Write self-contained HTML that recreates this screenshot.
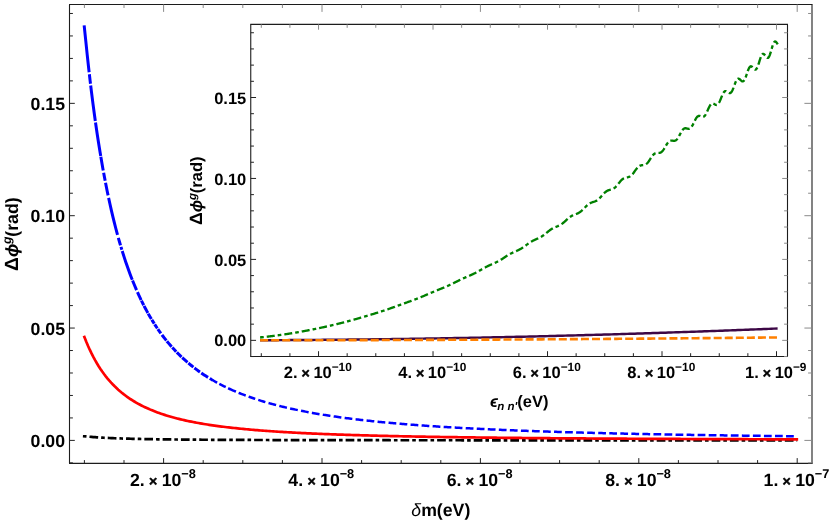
<!DOCTYPE html>
<html>
<head>
<meta charset="utf-8">
<title>Plot</title>
<style>
html, body { margin: 0; padding: 0; background: #ffffff; }
body { width: 830px; height: 521px; overflow: hidden; font-family: "Liberation Sans", sans-serif; }
svg { display: block; will-change: transform; }
svg text { font-family: "Liberation Sans", sans-serif; fill: #000000; text-rendering: geometricPrecision; }
</style>
</head>
<body>
<svg width="830" height="521" viewBox="0 0 830 521">
<rect x="0" y="0" width="830" height="521" fill="#ffffff"/>
<path d="M82.90,436.27 L86.18,436.45 L87.96,436.61 L89.75,436.77 L91.53,436.92 L93.31,437.06 L95.09,437.19 L96.87,437.31 L98.66,437.43 L100.44,437.54 L102.22,437.64 L104.00,437.74 L105.78,437.84 L107.57,437.93 L109.35,438.01 L111.13,438.09 L112.91,438.16 L114.69,438.24 L116.48,438.31 L118.26,438.37 L120.04,438.43 L121.82,438.49 L123.60,438.55 L125.39,438.60 L127.17,438.66 L128.95,438.71 L130.73,438.75 L132.51,438.80 L134.30,438.84 L136.08,438.89 L137.86,438.93 L139.64,438.97 L141.42,439.00 L143.21,439.04 L144.99,439.07 L146.77,439.11 L148.55,439.14 L150.33,439.17 L152.12,439.20 L153.90,439.23 L155.68,439.25 L157.46,439.28 L159.24,439.31 L161.03,439.33 L162.81,439.36 L164.59,439.38 L166.37,439.40 L168.15,439.42 L169.94,439.44 L171.72,439.46 L173.50,439.48 L175.28,439.50 L177.06,439.52 L178.85,439.54 L180.63,439.56 L182.41,439.57 L184.19,439.59 L185.97,439.61 L187.76,439.62 L189.54,439.64 L191.32,439.65 L193.10,439.67 L194.88,439.68 L196.67,439.69 L198.45,439.71 L200.23,439.72 L202.01,439.73 L203.79,439.74 L205.58,439.75 L207.36,439.77 L209.14,439.78 L210.92,439.79 L212.70,439.80 L214.49,439.81 L216.27,439.82 L218.05,439.83 L219.83,439.84 L221.61,439.85 L223.40,439.86 L225.18,439.86 L226.96,439.87 L228.74,439.88 L230.52,439.89 L232.31,439.90 L234.09,439.90 L235.87,439.91 L237.65,439.92 L239.43,439.93 L241.22,439.93 L243.00,439.94 L244.78,439.95 L246.56,439.95 L248.34,439.96 L250.13,439.97 L251.91,439.97 L253.69,439.98 L255.47,439.99 L257.25,439.99 L259.04,440.00 L260.82,440.00 L262.60,440.01 L264.38,440.01 L266.16,440.02 L267.95,440.02 L269.73,440.03 L271.51,440.03 L273.29,440.04 L275.07,440.04 L276.86,440.05 L278.64,440.05 L280.42,440.06 L282.20,440.06 L283.98,440.07 L285.77,440.07 L287.55,440.07 L289.33,440.08 L291.11,440.08 L292.89,440.09 L294.68,440.09 L296.46,440.09 L298.24,440.10 L300.02,440.10 L301.80,440.11 L303.59,440.11 L305.37,440.11 L307.15,440.12 L308.93,440.12 L310.71,440.12 L312.50,440.13 L314.28,440.13 L316.06,440.13 L317.84,440.13 L319.62,440.14 L321.41,440.14 L323.19,440.14 L324.97,440.15 L326.75,440.15 L328.53,440.15 L330.32,440.15 L332.10,440.16 L333.88,440.16 L335.66,440.16 L337.44,440.17 L339.23,440.17 L341.01,440.17 L342.79,440.17 L344.57,440.17 L346.35,440.18 L348.14,440.18 L349.92,440.18 L351.70,440.18 L353.48,440.19 L355.26,440.19 L357.05,440.19 L358.83,440.19 L360.61,440.19 L362.39,440.20 L364.17,440.20 L365.96,440.20 L367.74,440.20 L369.52,440.20 L371.30,440.21 L373.08,440.21 L374.87,440.21 L376.65,440.21 L378.43,440.21 L380.21,440.22 L381.99,440.22 L383.78,440.22 L385.56,440.22 L387.34,440.22 L389.12,440.22 L390.90,440.23 L392.69,440.23 L394.47,440.23 L396.25,440.23 L398.03,440.23 L399.81,440.23 L401.60,440.23 L403.38,440.24 L405.16,440.24 L406.94,440.24 L408.72,440.24 L410.51,440.24 L412.29,440.24 L414.07,440.24 L415.85,440.25 L417.63,440.25 L419.42,440.25 L421.20,440.25 L422.98,440.25 L424.76,440.25 L426.54,440.25 L428.33,440.26 L430.11,440.26 L431.89,440.26 L433.67,440.26 L435.45,440.26 L437.24,440.26 L439.02,440.26 L440.80,440.26 L442.58,440.26 L444.36,440.27 L446.15,440.27 L447.93,440.27 L449.71,440.27 L451.49,440.27 L453.27,440.27 L455.06,440.27 L456.84,440.27 L458.62,440.27 L460.40,440.27 L462.18,440.28 L463.97,440.28 L465.75,440.28 L467.53,440.28 L469.31,440.28 L471.09,440.28 L472.88,440.28 L474.66,440.28 L476.44,440.28 L478.22,440.28 L480.00,440.28 L481.79,440.29 L483.57,440.29 L485.35,440.29 L487.13,440.29 L488.91,440.29 L490.70,440.29 L492.48,440.29 L494.26,440.29 L496.04,440.29 L497.82,440.29 L499.61,440.29 L501.39,440.29 L503.17,440.30 L504.95,440.30 L506.73,440.30 L508.52,440.30 L510.30,440.30 L512.08,440.30 L513.86,440.30 L515.64,440.30 L517.43,440.30 L519.21,440.30 L520.99,440.30 L522.77,440.30 L524.55,440.30 L526.34,440.30 L528.12,440.31 L529.90,440.31 L531.68,440.31 L533.46,440.31 L535.25,440.31 L537.03,440.31 L538.81,440.31 L540.59,440.31 L542.37,440.31 L544.16,440.31 L545.94,440.31 L547.72,440.31 L549.50,440.31 L551.28,440.31 L553.07,440.31 L554.85,440.31 L556.63,440.31 L558.41,440.32 L560.19,440.32 L561.98,440.32 L563.76,440.32 L565.54,440.32 L567.32,440.32 L569.10,440.32 L570.89,440.32 L572.67,440.32 L574.45,440.32 L576.23,440.32 L578.01,440.32 L579.80,440.32 L581.58,440.32 L583.36,440.32 L585.14,440.32 L586.92,440.32 L588.71,440.32 L590.49,440.32 L592.27,440.32 L594.05,440.33 L595.83,440.33 L597.62,440.33 L599.40,440.33 L601.18,440.33 L602.96,440.33 L604.74,440.33 L606.53,440.33 L608.31,440.33 L610.09,440.33 L611.87,440.33 L613.65,440.33 L615.44,440.33 L617.22,440.33 L619.00,440.33 L620.78,440.33 L622.56,440.33 L624.35,440.33 L626.13,440.33 L627.91,440.33 L629.69,440.33 L631.47,440.33 L633.26,440.33 L635.04,440.33 L636.82,440.33 L638.60,440.34 L640.38,440.34 L642.17,440.34 L643.95,440.34 L645.73,440.34 L647.51,440.34 L649.29,440.34 L651.08,440.34 L652.86,440.34 L654.64,440.34 L656.42,440.34 L658.20,440.34 L659.99,440.34 L661.77,440.34 L663.55,440.34 L665.33,440.34 L667.11,440.34 L668.90,440.34 L670.68,440.34 L672.46,440.34 L674.24,440.34 L676.02,440.34 L677.81,440.34 L679.59,440.34 L681.37,440.34 L683.15,440.34 L684.93,440.34 L686.72,440.34 L688.50,440.34 L690.28,440.34 L692.06,440.35 L693.84,440.35 L695.63,440.35 L697.41,440.35 L699.19,440.35 L700.97,440.35 L702.75,440.35 L704.54,440.35 L706.32,440.35 L708.10,440.35 L709.88,440.35 L711.66,440.35 L713.45,440.35 L715.23,440.35 L717.01,440.35 L718.79,440.35 L720.57,440.35 L722.36,440.35 L724.14,440.35 L725.92,440.35 L727.70,440.35 L729.48,440.35 L731.27,440.35 L733.05,440.35 L734.83,440.35 L736.61,440.35 L738.39,440.35 L740.18,440.35 L741.96,440.35 L743.74,440.35 L745.52,440.35 L747.30,440.35 L749.09,440.35 L750.87,440.35 L752.65,440.35 L754.43,440.35 L756.21,440.35 L758.00,440.35 L759.78,440.35 L761.56,440.35 L763.34,440.35 L765.12,440.36 L766.91,440.36 L768.69,440.36 L770.47,440.36 L772.25,440.36 L774.03,440.36 L775.82,440.36 L777.60,440.36 L779.38,440.36 L781.16,440.36 L782.94,440.36 L784.73,440.36 L786.51,440.36 L788.29,440.36 L790.07,440.36 L791.85,440.36 L793.64,440.36 L795.42,440.36 L797.20,440.36" fill="none" stroke="#000000" stroke-width="2.7" stroke-linejoin="round" stroke-linecap="butt" stroke-dasharray="3.6 3.0 8.7 3.0" stroke-dashoffset="0"/>
<defs><clipPath id="cA"><rect x="0" y="0" width="212" height="521"/></clipPath><clipPath id="cB"><rect x="212" y="0" width="618" height="521"/></clipPath></defs>
<g clip-path="url(#cA)">
<path d="M84.15,25.45 L85.83,41.44 L87.25,55.19 L88.68,68.23 L90.10,80.62 L91.53,92.41 L92.95,103.62 L94.38,114.31 L95.80,124.49 L97.23,134.20 L98.66,143.47 L100.08,152.32 L101.51,160.79 L102.93,168.89 L104.36,176.64 L105.78,184.06 L107.21,191.18 L108.64,198.00 L110.06,204.55 L111.49,210.83 L112.91,216.87 L114.34,222.67 L115.76,228.25 L117.19,233.61 L118.61,238.78 L120.04,243.75 L121.47,248.55 L122.89,253.17 L124.32,257.62 L125.74,261.92 L127.17,266.07 L128.59,270.07 L130.02,273.94 L131.44,277.68 L132.87,281.29 L134.30,284.79 L135.72,288.17 L137.15,291.44 L138.57,294.61 L140.00,297.67 L141.42,300.65 L142.85,303.53 L144.28,306.32 L145.70,309.02 L147.13,311.65 L148.55,314.20 L149.98,316.67 L151.40,319.07 L152.83,321.40 L154.25,323.67 L155.68,325.87 L157.11,328.01 L158.53,330.09 L159.96,332.11 L161.38,334.08 L162.81,336.00 L164.23,337.86 L165.66,339.67 L167.08,341.44 L168.51,343.16 L169.94,344.84 L171.36,346.47 L172.79,348.06 L174.21,349.61 L175.64,351.12 L177.06,352.60 L178.49,354.04 L179.92,355.44 L181.34,356.81 L182.77,358.15 L184.19,359.45 L185.62,360.73 L187.04,361.97 L188.47,363.19 L189.89,364.37 L191.32,365.53 L192.75,366.67 L194.17,367.78 L195.60,368.86 L197.02,369.92 L198.45,370.95 L199.87,371.97 L201.30,372.96 L202.72,373.93 L204.15,374.88 L205.58,375.81 L207.00,376.72 L208.43,377.61 L209.85,378.48 L211.28,379.33 L212.70,380.17 L214.13,380.99 L215.56,381.79 L216.98,382.58 L218.41,383.35 L219.83,384.10 L221.26,384.84 L222.68,385.57 L224.11,386.28 L225.53,386.98 L226.96,387.66 L228.39,388.34 L229.81,388.99 L231.24,389.64 L232.66,390.28 L234.09,390.90 L235.51,391.51 L236.94,392.11 L238.36,392.70 L239.79,393.28 L241.22,393.84 L242.64,394.40 L244.07,394.95 L245.49,395.49 L246.92,396.01 L248.34,396.53 L249.77,397.04 L251.20,397.54 L252.62,398.04 L254.05,398.52 L255.47,399.00 L256.90,399.46 L258.32,399.92 L259.75,400.38 L261.17,400.82 L262.60,401.26 L264.03,401.69 L265.45,402.11 L266.88,402.53 L268.30,402.94 L269.73,403.34 L271.15,403.73 L272.58,404.12 L274.00,404.51 L275.43,404.89 L276.86,405.26 L278.28,405.62 L279.71,405.98 L281.13,406.34 L282.56,406.69 L283.98,407.03 L285.41,407.37 L286.84,407.70 L288.26,408.03 L289.69,408.36 L291.11,408.67 L292.54,408.99 L293.96,409.30 L295.39,409.60 L296.81,409.90 L298.24,410.20 L299.67,410.49 L301.09,410.78 L302.52,411.06 L303.94,411.34 L305.37,411.62 L306.79,411.89 L308.22,412.16 L309.64,412.42 L311.07,412.68 L312.50,412.94 L313.92,413.19 L315.35,413.44 L316.77,413.69 L318.20,413.93 L319.62,414.17 L321.05,414.40 L322.48,414.64 L323.90,414.87 L325.33,415.09 L326.75,415.32 L328.18,415.54 L329.60,415.76 L331.03,415.97 L332.45,416.18 L333.88,416.39 L335.31,416.60 L336.73,416.80 L338.16,417.01 L339.58,417.21 L341.01,417.40 L342.43,417.60 L343.86,417.79 L345.28,417.98 L346.71,418.16 L348.14,418.35 L349.56,418.53 L350.99,418.71 L352.41,418.89 L353.84,419.06 L355.26,419.24 L356.69,419.41 L358.12,419.58 L359.54,419.74 L360.97,419.91 L362.39,420.07 L363.82,420.23 L365.24,420.39 L366.67,420.55 L368.09,420.71 L369.52,420.86 L370.95,421.01 L372.37,421.16 L373.80,421.31 L375.22,421.46 L376.65,421.60 L378.07,421.75 L379.50,421.89 L380.92,422.03 L382.35,422.17 L383.78,422.30 L385.20,422.44 L386.63,422.57 L388.05,422.71 L389.48,422.84 L390.90,422.97 L392.33,423.10 L393.76,423.22 L395.18,423.35 L396.61,423.47 L398.03,423.59 L399.46,423.72 L400.88,423.84 L402.31,423.95 L403.73,424.07 L405.16,424.19 L406.59,424.30 L408.01,424.42 L409.44,424.53 L410.86,424.64 L412.29,424.75 L413.71,424.86 L415.14,424.97 L416.56,425.07 L417.99,425.18 L419.42,425.28 L420.84,425.39 L422.27,425.49 L423.69,425.59 L425.12,425.69 L426.54,425.79 L427.97,425.89 L429.40,425.99 L430.82,426.08 L432.25,426.18 L433.67,426.27 L435.10,426.37 L436.52,426.46 L437.95,426.55 L439.37,426.64 L440.80,426.73 L442.23,426.82 L443.65,426.91 L445.08,427.00 L446.50,427.08 L447.93,427.17 L449.35,427.25 L450.78,427.34 L452.20,427.42 L453.63,427.50 L455.06,427.58 L456.48,427.67 L457.91,427.75 L459.33,427.83 L460.76,427.90 L462.18,427.98 L463.61,428.06 L465.04,428.14 L466.46,428.21 L467.89,428.29 L469.31,428.36 L470.74,428.43 L472.16,428.51 L473.59,428.58 L475.01,428.65 L476.44,428.72 L477.87,428.79 L479.29,428.86 L480.72,428.93 L482.14,429.00 L483.57,429.07 L484.99,429.13 L486.42,429.20 L487.84,429.27 L489.27,429.33 L490.70,429.40 L492.12,429.46 L493.55,429.53 L494.97,429.59 L496.40,429.65 L497.82,429.71 L499.25,429.77 L500.68,429.84 L502.10,429.90 L503.53,429.96 L504.95,430.02 L506.38,430.08 L507.80,430.13 L509.23,430.19 L510.65,430.25 L512.08,430.31 L513.51,430.36 L514.93,430.42 L516.36,430.47 L517.78,430.53 L519.21,430.58 L520.63,430.64 L522.06,430.69 L523.48,430.75 L524.91,430.80 L526.34,430.85 L527.76,430.90 L529.19,430.95 L530.61,431.01 L532.04,431.06 L533.46,431.11 L534.89,431.16 L536.32,431.21 L537.74,431.26 L539.17,431.30 L540.59,431.35 L542.02,431.40 L543.44,431.45 L544.87,431.50 L546.29,431.54 L547.72,431.59 L549.15,431.63 L550.57,431.68 L552.00,431.73 L553.42,431.77 L554.85,431.82 L556.27,431.86 L557.70,431.90 L559.12,431.95 L560.55,431.99 L561.98,432.03 L563.40,432.08 L564.83,432.12 L566.25,432.16 L567.68,432.20 L569.10,432.24 L570.53,432.29 L571.96,432.33 L573.38,432.37 L574.81,432.41 L576.23,432.45 L577.66,432.49 L579.08,432.53 L580.51,432.56 L581.93,432.60 L583.36,432.64 L584.79,432.68 L586.21,432.72 L587.64,432.76 L589.06,432.79 L590.49,432.83 L591.91,432.87 L593.34,432.90 L594.76,432.94 L596.19,432.97 L597.62,433.01 L599.04,433.05 L600.47,433.08 L601.89,433.12 L603.32,433.15 L604.74,433.19 L606.17,433.22 L607.60,433.25 L609.02,433.29 L610.45,433.32 L611.87,433.35 L613.30,433.39 L614.72,433.42 L616.15,433.45 L617.57,433.48 L619.00,433.52 L620.43,433.55 L621.85,433.58 L623.28,433.61 L624.70,433.64 L626.13,433.67 L627.55,433.70 L628.98,433.73 L630.40,433.77 L631.83,433.80 L633.26,433.83 L634.68,433.86 L636.11,433.88 L637.53,433.91 L638.96,433.94 L640.38,433.97 L641.81,434.00 L643.24,434.03 L644.66,434.06 L646.09,434.09 L647.51,434.11 L648.94,434.14 L650.36,434.17 L651.79,434.20 L653.21,434.22 L654.64,434.25 L656.07,434.28 L657.49,434.30 L658.92,434.33 L660.34,434.36 L661.77,434.38 L663.19,434.41 L664.62,434.44 L666.04,434.46 L667.47,434.49 L668.90,434.51 L670.32,434.54 L671.75,434.56 L673.17,434.59 L674.60,434.61 L676.02,434.64 L677.45,434.66 L678.88,434.69 L680.30,434.71 L681.73,434.73 L683.15,434.76 L684.58,434.78 L686.00,434.80 L687.43,434.83 L688.85,434.85 L690.28,434.87 L691.71,434.90 L693.13,434.92 L694.56,434.94 L695.98,434.97 L697.41,434.99 L698.83,435.01 L700.26,435.03 L701.68,435.05 L703.11,435.08 L704.54,435.10 L705.96,435.12 L707.39,435.14 L708.81,435.16 L710.24,435.18 L711.66,435.20 L713.09,435.22 L714.52,435.25 L715.94,435.27 L717.37,435.29 L718.79,435.31 L720.22,435.33 L721.64,435.35 L723.07,435.37 L724.49,435.39 L725.92,435.41 L727.35,435.43 L728.77,435.45 L730.20,435.47 L731.62,435.49 L733.05,435.50 L734.47,435.52 L735.90,435.54 L737.32,435.56 L738.75,435.58 L740.18,435.60 L741.60,435.62 L743.03,435.64 L744.45,435.65 L745.88,435.67 L747.30,435.69 L748.73,435.71 L750.16,435.73 L751.58,435.74 L753.01,435.76 L754.43,435.78 L755.86,435.80 L757.28,435.81 L758.71,435.83 L760.13,435.85 L761.56,435.87 L762.99,435.88 L764.41,435.90 L765.84,435.92 L767.26,435.93 L768.69,435.95 L770.11,435.97 L771.54,435.98 L772.96,436.00 L774.39,436.02 L775.82,436.03 L777.24,436.05 L778.67,436.07 L780.09,436.08 L781.52,436.10 L782.94,436.11 L784.37,436.13 L785.80,436.14 L787.22,436.16 L788.65,436.17 L790.07,436.19 L791.50,436.21 L792.92,436.22 L793.95,436.23" fill="none" stroke="#0000ff" stroke-width="3.0" stroke-linejoin="round" stroke-linecap="butt" stroke-dasharray="47.11 2.01 9.57 1.71 35.80 1.52 34.01 0.71 13.91 2.34 8.14 2.04 12.76 2.56 38.09 3.11 7.81 1.57 3.03 1.36 30.45 0.75 10.42 2.19 8.72 0.70 5.08 0.80 7.97 0.80 6.29 0.80 4.64 0.80 4.81 0.90 5.21 1.80 7.23 0.90 7.34 0.90 5.73 1.00 6.51 1.00 7.07 1.10 6.47 1.30 6.92 1.60 8.06 2.00 8.59 2.40 7.16 2.70 8.55 2.90 7.60 3.10 6.99 3.20 7.41 3.30 7.88 3.30 7.80 3.30 7.84 3.30 7.75 3.30 7.75 3.30 7.75 3.30 7.75 3.30 7.75 3.30 7.75 3.30 7.75 3.30 7.75 3.30 7.75 3.30 7.75 3.30 7.75 3.30 7.75 3.30 7.75 3.30 7.75 3.30 7.75 3.30 7.75 3.30 7.75 3.30 7.75 3.30 7.75 3.30 7.75 3.30 7.75 3.30 7.75 3.30 7.75 3.30 7.75 3.30 7.75 3.30 7.75 3.30 7.75 3.30 7.75 3.30 7.75 3.30 7.75 3.30 7.75 3.30 7.75 3.30 7.75 3.30 7.75 3.30 7.75 3.30 7.75 3.30 7.75 3.30 7.75 3.30 7.75 3.30 7.75 3.30 7.75 3.30 7.75 3.30 7.75 3.30 7.75 3.30 7.75 3.30 50.00 0.00" stroke-dashoffset="0"/>
</g><g clip-path="url(#cB)">
<path d="M84.15,25.45 L85.83,41.44 L87.25,55.19 L88.68,68.23 L90.10,80.62 L91.53,92.41 L92.95,103.62 L94.38,114.31 L95.80,124.49 L97.23,134.20 L98.66,143.47 L100.08,152.32 L101.51,160.79 L102.93,168.89 L104.36,176.64 L105.78,184.06 L107.21,191.18 L108.64,198.00 L110.06,204.55 L111.49,210.83 L112.91,216.87 L114.34,222.67 L115.76,228.25 L117.19,233.61 L118.61,238.78 L120.04,243.75 L121.47,248.55 L122.89,253.17 L124.32,257.62 L125.74,261.92 L127.17,266.07 L128.59,270.07 L130.02,273.94 L131.44,277.68 L132.87,281.29 L134.30,284.79 L135.72,288.17 L137.15,291.44 L138.57,294.61 L140.00,297.67 L141.42,300.65 L142.85,303.53 L144.28,306.32 L145.70,309.02 L147.13,311.65 L148.55,314.20 L149.98,316.67 L151.40,319.07 L152.83,321.40 L154.25,323.67 L155.68,325.87 L157.11,328.01 L158.53,330.09 L159.96,332.11 L161.38,334.08 L162.81,336.00 L164.23,337.86 L165.66,339.67 L167.08,341.44 L168.51,343.16 L169.94,344.84 L171.36,346.47 L172.79,348.06 L174.21,349.61 L175.64,351.12 L177.06,352.60 L178.49,354.04 L179.92,355.44 L181.34,356.81 L182.77,358.15 L184.19,359.45 L185.62,360.73 L187.04,361.97 L188.47,363.19 L189.89,364.37 L191.32,365.53 L192.75,366.67 L194.17,367.78 L195.60,368.86 L197.02,369.92 L198.45,370.95 L199.87,371.97 L201.30,372.96 L202.72,373.93 L204.15,374.88 L205.58,375.81 L207.00,376.72 L208.43,377.61 L209.85,378.48 L211.28,379.33 L212.70,380.17 L214.13,380.99 L215.56,381.79 L216.98,382.58 L218.41,383.35 L219.83,384.10 L221.26,384.84 L222.68,385.57 L224.11,386.28 L225.53,386.98 L226.96,387.66 L228.39,388.34 L229.81,388.99 L231.24,389.64 L232.66,390.28 L234.09,390.90 L235.51,391.51 L236.94,392.11 L238.36,392.70 L239.79,393.28 L241.22,393.84 L242.64,394.40 L244.07,394.95 L245.49,395.49 L246.92,396.01 L248.34,396.53 L249.77,397.04 L251.20,397.54 L252.62,398.04 L254.05,398.52 L255.47,399.00 L256.90,399.46 L258.32,399.92 L259.75,400.38 L261.17,400.82 L262.60,401.26 L264.03,401.69 L265.45,402.11 L266.88,402.53 L268.30,402.94 L269.73,403.34 L271.15,403.73 L272.58,404.12 L274.00,404.51 L275.43,404.89 L276.86,405.26 L278.28,405.62 L279.71,405.98 L281.13,406.34 L282.56,406.69 L283.98,407.03 L285.41,407.37 L286.84,407.70 L288.26,408.03 L289.69,408.36 L291.11,408.67 L292.54,408.99 L293.96,409.30 L295.39,409.60 L296.81,409.90 L298.24,410.20 L299.67,410.49 L301.09,410.78 L302.52,411.06 L303.94,411.34 L305.37,411.62 L306.79,411.89 L308.22,412.16 L309.64,412.42 L311.07,412.68 L312.50,412.94 L313.92,413.19 L315.35,413.44 L316.77,413.69 L318.20,413.93 L319.62,414.17 L321.05,414.40 L322.48,414.64 L323.90,414.87 L325.33,415.09 L326.75,415.32 L328.18,415.54 L329.60,415.76 L331.03,415.97 L332.45,416.18 L333.88,416.39 L335.31,416.60 L336.73,416.80 L338.16,417.01 L339.58,417.21 L341.01,417.40 L342.43,417.60 L343.86,417.79 L345.28,417.98 L346.71,418.16 L348.14,418.35 L349.56,418.53 L350.99,418.71 L352.41,418.89 L353.84,419.06 L355.26,419.24 L356.69,419.41 L358.12,419.58 L359.54,419.74 L360.97,419.91 L362.39,420.07 L363.82,420.23 L365.24,420.39 L366.67,420.55 L368.09,420.71 L369.52,420.86 L370.95,421.01 L372.37,421.16 L373.80,421.31 L375.22,421.46 L376.65,421.60 L378.07,421.75 L379.50,421.89 L380.92,422.03 L382.35,422.17 L383.78,422.30 L385.20,422.44 L386.63,422.57 L388.05,422.71 L389.48,422.84 L390.90,422.97 L392.33,423.10 L393.76,423.22 L395.18,423.35 L396.61,423.47 L398.03,423.59 L399.46,423.72 L400.88,423.84 L402.31,423.95 L403.73,424.07 L405.16,424.19 L406.59,424.30 L408.01,424.42 L409.44,424.53 L410.86,424.64 L412.29,424.75 L413.71,424.86 L415.14,424.97 L416.56,425.07 L417.99,425.18 L419.42,425.28 L420.84,425.39 L422.27,425.49 L423.69,425.59 L425.12,425.69 L426.54,425.79 L427.97,425.89 L429.40,425.99 L430.82,426.08 L432.25,426.18 L433.67,426.27 L435.10,426.37 L436.52,426.46 L437.95,426.55 L439.37,426.64 L440.80,426.73 L442.23,426.82 L443.65,426.91 L445.08,427.00 L446.50,427.08 L447.93,427.17 L449.35,427.25 L450.78,427.34 L452.20,427.42 L453.63,427.50 L455.06,427.58 L456.48,427.67 L457.91,427.75 L459.33,427.83 L460.76,427.90 L462.18,427.98 L463.61,428.06 L465.04,428.14 L466.46,428.21 L467.89,428.29 L469.31,428.36 L470.74,428.43 L472.16,428.51 L473.59,428.58 L475.01,428.65 L476.44,428.72 L477.87,428.79 L479.29,428.86 L480.72,428.93 L482.14,429.00 L483.57,429.07 L484.99,429.13 L486.42,429.20 L487.84,429.27 L489.27,429.33 L490.70,429.40 L492.12,429.46 L493.55,429.53 L494.97,429.59 L496.40,429.65 L497.82,429.71 L499.25,429.77 L500.68,429.84 L502.10,429.90 L503.53,429.96 L504.95,430.02 L506.38,430.08 L507.80,430.13 L509.23,430.19 L510.65,430.25 L512.08,430.31 L513.51,430.36 L514.93,430.42 L516.36,430.47 L517.78,430.53 L519.21,430.58 L520.63,430.64 L522.06,430.69 L523.48,430.75 L524.91,430.80 L526.34,430.85 L527.76,430.90 L529.19,430.95 L530.61,431.01 L532.04,431.06 L533.46,431.11 L534.89,431.16 L536.32,431.21 L537.74,431.26 L539.17,431.30 L540.59,431.35 L542.02,431.40 L543.44,431.45 L544.87,431.50 L546.29,431.54 L547.72,431.59 L549.15,431.63 L550.57,431.68 L552.00,431.73 L553.42,431.77 L554.85,431.82 L556.27,431.86 L557.70,431.90 L559.12,431.95 L560.55,431.99 L561.98,432.03 L563.40,432.08 L564.83,432.12 L566.25,432.16 L567.68,432.20 L569.10,432.24 L570.53,432.29 L571.96,432.33 L573.38,432.37 L574.81,432.41 L576.23,432.45 L577.66,432.49 L579.08,432.53 L580.51,432.56 L581.93,432.60 L583.36,432.64 L584.79,432.68 L586.21,432.72 L587.64,432.76 L589.06,432.79 L590.49,432.83 L591.91,432.87 L593.34,432.90 L594.76,432.94 L596.19,432.97 L597.62,433.01 L599.04,433.05 L600.47,433.08 L601.89,433.12 L603.32,433.15 L604.74,433.19 L606.17,433.22 L607.60,433.25 L609.02,433.29 L610.45,433.32 L611.87,433.35 L613.30,433.39 L614.72,433.42 L616.15,433.45 L617.57,433.48 L619.00,433.52 L620.43,433.55 L621.85,433.58 L623.28,433.61 L624.70,433.64 L626.13,433.67 L627.55,433.70 L628.98,433.73 L630.40,433.77 L631.83,433.80 L633.26,433.83 L634.68,433.86 L636.11,433.88 L637.53,433.91 L638.96,433.94 L640.38,433.97 L641.81,434.00 L643.24,434.03 L644.66,434.06 L646.09,434.09 L647.51,434.11 L648.94,434.14 L650.36,434.17 L651.79,434.20 L653.21,434.22 L654.64,434.25 L656.07,434.28 L657.49,434.30 L658.92,434.33 L660.34,434.36 L661.77,434.38 L663.19,434.41 L664.62,434.44 L666.04,434.46 L667.47,434.49 L668.90,434.51 L670.32,434.54 L671.75,434.56 L673.17,434.59 L674.60,434.61 L676.02,434.64 L677.45,434.66 L678.88,434.69 L680.30,434.71 L681.73,434.73 L683.15,434.76 L684.58,434.78 L686.00,434.80 L687.43,434.83 L688.85,434.85 L690.28,434.87 L691.71,434.90 L693.13,434.92 L694.56,434.94 L695.98,434.97 L697.41,434.99 L698.83,435.01 L700.26,435.03 L701.68,435.05 L703.11,435.08 L704.54,435.10 L705.96,435.12 L707.39,435.14 L708.81,435.16 L710.24,435.18 L711.66,435.20 L713.09,435.22 L714.52,435.25 L715.94,435.27 L717.37,435.29 L718.79,435.31 L720.22,435.33 L721.64,435.35 L723.07,435.37 L724.49,435.39 L725.92,435.41 L727.35,435.43 L728.77,435.45 L730.20,435.47 L731.62,435.49 L733.05,435.50 L734.47,435.52 L735.90,435.54 L737.32,435.56 L738.75,435.58 L740.18,435.60 L741.60,435.62 L743.03,435.64 L744.45,435.65 L745.88,435.67 L747.30,435.69 L748.73,435.71 L750.16,435.73 L751.58,435.74 L753.01,435.76 L754.43,435.78 L755.86,435.80 L757.28,435.81 L758.71,435.83 L760.13,435.85 L761.56,435.87 L762.99,435.88 L764.41,435.90 L765.84,435.92 L767.26,435.93 L768.69,435.95 L770.11,435.97 L771.54,435.98 L772.96,436.00 L774.39,436.02 L775.82,436.03 L777.24,436.05 L778.67,436.07 L780.09,436.08 L781.52,436.10 L782.94,436.11 L784.37,436.13 L785.80,436.14 L787.22,436.16 L788.65,436.17 L790.07,436.19 L791.50,436.21 L792.92,436.22 L793.95,436.23" fill="none" stroke="#0000ff" stroke-width="2.5" stroke-linejoin="round" stroke-linecap="butt" stroke-dasharray="47.11 2.01 9.57 1.71 35.80 1.52 34.01 0.71 13.91 2.34 8.14 2.04 12.76 2.56 38.09 3.11 7.81 1.57 3.03 1.36 30.45 0.75 10.42 2.19 8.72 0.70 5.08 0.80 7.97 0.80 6.29 0.80 4.64 0.80 4.81 0.90 5.21 1.80 7.23 0.90 7.34 0.90 5.73 1.00 6.51 1.00 7.07 1.10 6.47 1.30 6.92 1.60 8.06 2.00 8.59 2.40 7.16 2.70 8.55 2.90 7.60 3.10 6.99 3.20 7.41 3.30 7.88 3.30 7.80 3.30 7.84 3.30 7.75 3.30 7.75 3.30 7.75 3.30 7.75 3.30 7.75 3.30 7.75 3.30 7.75 3.30 7.75 3.30 7.75 3.30 7.75 3.30 7.75 3.30 7.75 3.30 7.75 3.30 7.75 3.30 7.75 3.30 7.75 3.30 7.75 3.30 7.75 3.30 7.75 3.30 7.75 3.30 7.75 3.30 7.75 3.30 7.75 3.30 7.75 3.30 7.75 3.30 7.75 3.30 7.75 3.30 7.75 3.30 7.75 3.30 7.75 3.30 7.75 3.30 7.75 3.30 7.75 3.30 7.75 3.30 7.75 3.30 7.75 3.30 7.75 3.30 7.75 3.30 7.75 3.30 7.75 3.30 7.75 3.30 7.75 3.30 7.75 3.30 7.75 3.30 7.75 3.30 50.00 0.00" stroke-dashoffset="0"/>
</g>
<path d="M84.40,337.04 L86.18,341.54 L87.96,345.75 L89.75,349.70 L91.53,353.40 L93.31,356.89 L95.09,360.16 L96.87,363.25 L98.66,366.17 L100.44,368.92 L102.22,371.52 L104.00,373.98 L105.78,376.32 L107.57,378.53 L109.35,380.63 L111.13,382.62 L112.91,384.52 L114.69,386.32 L116.48,388.04 L118.26,389.68 L120.04,391.24 L121.82,392.73 L123.60,394.15 L125.39,395.51 L127.17,396.82 L128.95,398.06 L130.73,399.26 L132.51,400.40 L134.30,401.50 L136.08,402.55 L137.86,403.56 L139.64,404.53 L141.42,405.46 L143.21,406.36 L144.99,407.22 L146.77,408.05 L148.55,408.85 L150.33,409.62 L152.12,410.36 L153.90,411.08 L155.68,411.77 L157.46,412.43 L159.24,413.08 L161.03,413.70 L162.81,414.30 L164.59,414.88 L166.37,415.44 L168.15,415.98 L169.94,416.51 L171.72,417.02 L173.50,417.51 L175.28,417.99 L177.06,418.45 L178.85,418.90 L180.63,419.33 L182.41,419.75 L184.19,420.16 L185.97,420.56 L187.76,420.95 L189.54,421.32 L191.32,421.68 L193.10,422.04 L194.88,422.38 L196.67,422.71 L198.45,423.04 L200.23,423.35 L202.01,423.66 L203.79,423.96 L205.58,424.25 L207.36,424.54 L209.14,424.81 L210.92,425.08 L212.70,425.34 L214.49,425.60 L216.27,425.85 L218.05,426.09 L219.83,426.33 L221.61,426.56 L223.40,426.78 L225.18,427.00 L226.96,427.22 L228.74,427.43 L230.52,427.63 L232.31,427.83 L234.09,428.02 L235.87,428.21 L237.65,428.40 L239.43,428.58 L241.22,428.76 L243.00,428.93 L244.78,429.10 L246.56,429.27 L248.34,429.43 L250.13,429.59 L251.91,429.75 L253.69,429.90 L255.47,430.05 L257.25,430.19 L259.04,430.34 L260.82,430.48 L262.60,430.61 L264.38,430.75 L266.16,430.88 L267.95,431.01 L269.73,431.13 L271.51,431.26 L273.29,431.38 L275.07,431.50 L276.86,431.61 L278.64,431.73 L280.42,431.84 L282.20,431.95 L283.98,432.06 L285.77,432.16 L287.55,432.27 L289.33,432.37 L291.11,432.47 L292.89,432.57 L294.68,432.66 L296.46,432.76 L298.24,432.85 L300.02,432.94 L301.80,433.03 L303.59,433.12 L305.37,433.20 L307.15,433.29 L308.93,433.37 L310.71,433.45 L312.50,433.53 L314.28,433.61 L316.06,433.69 L317.84,433.77 L319.62,433.84 L321.41,433.92 L323.19,433.99 L324.97,434.06 L326.75,434.13 L328.53,434.20 L330.32,434.27 L332.10,434.33 L333.88,434.40 L335.66,434.46 L337.44,434.53 L339.23,434.59 L341.01,434.65 L342.79,434.71 L344.57,434.77 L346.35,434.83 L348.14,434.89 L349.92,434.94 L351.70,435.00 L353.48,435.05 L355.26,435.11 L357.05,435.16 L358.83,435.22 L360.61,435.27 L362.39,435.32 L364.17,435.37 L365.96,435.42 L367.74,435.47 L369.52,435.52 L371.30,435.56 L373.08,435.61 L374.87,435.66 L376.65,435.70 L378.43,435.75 L380.21,435.79 L381.99,435.83 L383.78,435.88 L385.56,435.92 L387.34,435.96 L389.12,436.00 L390.90,436.04 L392.69,436.08 L394.47,436.12 L396.25,436.16 L398.03,436.20 L399.81,436.24 L401.60,436.27 L403.38,436.31 L405.16,436.35 L406.94,436.38 L408.72,436.42 L410.51,436.45 L412.29,436.49 L414.07,436.52 L415.85,436.56 L417.63,436.59 L419.42,436.62 L421.20,436.65 L422.98,436.69 L424.76,436.72 L426.54,436.75 L428.33,436.78 L430.11,436.81 L431.89,436.84 L433.67,436.87 L435.45,436.90 L437.24,436.93 L439.02,436.95 L440.80,436.98 L442.58,437.01 L444.36,437.04 L446.15,437.07 L447.93,437.09 L449.71,437.12 L451.49,437.14 L453.27,437.17 L455.06,437.20 L456.84,437.22 L458.62,437.25 L460.40,437.27 L462.18,437.30 L463.97,437.32 L465.75,437.34 L467.53,437.37 L469.31,437.39 L471.09,437.41 L472.88,437.44 L474.66,437.46 L476.44,437.48 L478.22,437.50 L480.00,437.52 L481.79,437.55 L483.57,437.57 L485.35,437.59 L487.13,437.61 L488.91,437.63 L490.70,437.65 L492.48,437.67 L494.26,437.69 L496.04,437.71 L497.82,437.73 L499.61,437.75 L501.39,437.77 L503.17,437.79 L504.95,437.80 L506.73,437.82 L508.52,437.84 L510.30,437.86 L512.08,437.88 L513.86,437.89 L515.64,437.91 L517.43,437.93 L519.21,437.95 L520.99,437.96 L522.77,437.98 L524.55,438.00 L526.34,438.01 L528.12,438.03 L529.90,438.05 L531.68,438.06 L533.46,438.08 L535.25,438.09 L537.03,438.11 L538.81,438.12 L540.59,438.14 L542.37,438.15 L544.16,438.17 L545.94,438.18 L547.72,438.20 L549.50,438.21 L551.28,438.23 L553.07,438.24 L554.85,438.25 L556.63,438.27 L558.41,438.28 L560.19,438.30 L561.98,438.31 L563.76,438.32 L565.54,438.34 L567.32,438.35 L569.10,438.36 L570.89,438.37 L572.67,438.39 L574.45,438.40 L576.23,438.41 L578.01,438.42 L579.80,438.44 L581.58,438.45 L583.36,438.46 L585.14,438.47 L586.92,438.48 L588.71,438.50 L590.49,438.51 L592.27,438.52 L594.05,438.53 L595.83,438.54 L597.62,438.55 L599.40,438.56 L601.18,438.57 L602.96,438.59 L604.74,438.60 L606.53,438.61 L608.31,438.62 L610.09,438.63 L611.87,438.64 L613.65,438.65 L615.44,438.66 L617.22,438.67 L619.00,438.68 L620.78,438.69 L622.56,438.70 L624.35,438.71 L626.13,438.72 L627.91,438.73 L629.69,438.74 L631.47,438.75 L633.26,438.76 L635.04,438.77 L636.82,438.77 L638.60,438.78 L640.38,438.79 L642.17,438.80 L643.95,438.81 L645.73,438.82 L647.51,438.83 L649.29,438.84 L651.08,438.85 L652.86,438.85 L654.64,438.86 L656.42,438.87 L658.20,438.88 L659.99,438.89 L661.77,438.90 L663.55,438.90 L665.33,438.91 L667.11,438.92 L668.90,438.93 L670.68,438.94 L672.46,438.94 L674.24,438.95 L676.02,438.96 L677.81,438.97 L679.59,438.97 L681.37,438.98 L683.15,438.99 L684.93,439.00 L686.72,439.00 L688.50,439.01 L690.28,439.02 L692.06,439.03 L693.84,439.03 L695.63,439.04 L697.41,439.05 L699.19,439.05 L700.97,439.06 L702.75,439.07 L704.54,439.07 L706.32,439.08 L708.10,439.09 L709.88,439.09 L711.66,439.10 L713.45,439.11 L715.23,439.11 L717.01,439.12 L718.79,439.13 L720.57,439.13 L722.36,439.14 L724.14,439.15 L725.92,439.15 L727.70,439.16 L729.48,439.16 L731.27,439.17 L733.05,439.18 L734.83,439.18 L736.61,439.19 L738.39,439.19 L740.18,439.20 L741.96,439.21 L743.74,439.21 L745.52,439.22 L747.30,439.22 L749.09,439.23 L750.87,439.23 L752.65,439.24 L754.43,439.25 L756.21,439.25 L758.00,439.26 L759.78,439.26 L761.56,439.27 L763.34,439.27 L765.12,439.28 L766.91,439.28 L768.69,439.29 L770.47,439.29 L772.25,439.30 L774.03,439.30 L775.82,439.31 L777.60,439.31 L779.38,439.32 L781.16,439.32 L782.94,439.33 L784.73,439.33 L786.51,439.34 L788.29,439.34 L790.07,439.35 L791.85,439.35 L793.64,439.36 L795.42,439.36 L796.80,439.37" fill="none" stroke="#ff0000" stroke-width="2.7" stroke-linejoin="round" stroke-linecap="square"/>
<line x1="69.50" y1="4.50" x2="69.50" y2="463.40" stroke="#1c1c1c" stroke-width="1.1"/>
<line x1="69.00" y1="463.40" x2="812.50" y2="463.40" stroke="#1c1c1c" stroke-width="1.1"/>
<line x1="69.00" y1="4.50" x2="812.50" y2="4.50" stroke="#1c1c1c" stroke-width="1.1"/>
<line x1="812.00" y1="4.50" x2="812.00" y2="463.40" stroke="#1c1c1c" stroke-width="1.1"/>
<line x1="84.40" y1="463.40" x2="84.40" y2="460.10" stroke="#222222" stroke-width="1.0"/>
<line x1="84.40" y1="4.50" x2="84.40" y2="8.00" stroke="#8a8a8a" stroke-width="1.0"/>
<line x1="124.00" y1="463.40" x2="124.00" y2="460.10" stroke="#222222" stroke-width="1.0"/>
<line x1="124.00" y1="4.50" x2="124.00" y2="8.00" stroke="#8a8a8a" stroke-width="1.0"/>
<line x1="163.60" y1="463.40" x2="163.60" y2="458.10" stroke="#222222" stroke-width="1.0"/>
<line x1="163.60" y1="4.50" x2="163.60" y2="11.90" stroke="#8a8a8a" stroke-width="1.0"/>
<line x1="203.20" y1="463.40" x2="203.20" y2="460.10" stroke="#222222" stroke-width="1.0"/>
<line x1="203.20" y1="4.50" x2="203.20" y2="8.00" stroke="#8a8a8a" stroke-width="1.0"/>
<line x1="242.80" y1="463.40" x2="242.80" y2="460.10" stroke="#222222" stroke-width="1.0"/>
<line x1="242.80" y1="4.50" x2="242.80" y2="8.00" stroke="#8a8a8a" stroke-width="1.0"/>
<line x1="282.40" y1="463.40" x2="282.40" y2="460.10" stroke="#222222" stroke-width="1.0"/>
<line x1="282.40" y1="4.50" x2="282.40" y2="8.00" stroke="#8a8a8a" stroke-width="1.0"/>
<line x1="322.00" y1="463.40" x2="322.00" y2="458.10" stroke="#222222" stroke-width="1.0"/>
<line x1="322.00" y1="4.50" x2="322.00" y2="11.90" stroke="#8a8a8a" stroke-width="1.0"/>
<line x1="361.60" y1="463.40" x2="361.60" y2="460.10" stroke="#222222" stroke-width="1.0"/>
<line x1="361.60" y1="4.50" x2="361.60" y2="8.00" stroke="#8a8a8a" stroke-width="1.0"/>
<line x1="401.20" y1="463.40" x2="401.20" y2="460.10" stroke="#222222" stroke-width="1.0"/>
<line x1="401.20" y1="4.50" x2="401.20" y2="8.00" stroke="#8a8a8a" stroke-width="1.0"/>
<line x1="440.80" y1="463.40" x2="440.80" y2="460.10" stroke="#222222" stroke-width="1.0"/>
<line x1="440.80" y1="4.50" x2="440.80" y2="8.00" stroke="#8a8a8a" stroke-width="1.0"/>
<line x1="480.40" y1="463.40" x2="480.40" y2="458.10" stroke="#222222" stroke-width="1.0"/>
<line x1="480.40" y1="4.50" x2="480.40" y2="11.90" stroke="#8a8a8a" stroke-width="1.0"/>
<line x1="520.00" y1="463.40" x2="520.00" y2="460.10" stroke="#222222" stroke-width="1.0"/>
<line x1="520.00" y1="4.50" x2="520.00" y2="8.00" stroke="#8a8a8a" stroke-width="1.0"/>
<line x1="559.60" y1="463.40" x2="559.60" y2="460.10" stroke="#222222" stroke-width="1.0"/>
<line x1="559.60" y1="4.50" x2="559.60" y2="8.00" stroke="#8a8a8a" stroke-width="1.0"/>
<line x1="599.20" y1="463.40" x2="599.20" y2="460.10" stroke="#222222" stroke-width="1.0"/>
<line x1="599.20" y1="4.50" x2="599.20" y2="8.00" stroke="#8a8a8a" stroke-width="1.0"/>
<line x1="638.80" y1="463.40" x2="638.80" y2="458.10" stroke="#222222" stroke-width="1.0"/>
<line x1="638.80" y1="4.50" x2="638.80" y2="11.90" stroke="#8a8a8a" stroke-width="1.0"/>
<line x1="678.40" y1="463.40" x2="678.40" y2="460.10" stroke="#222222" stroke-width="1.0"/>
<line x1="678.40" y1="4.50" x2="678.40" y2="8.00" stroke="#8a8a8a" stroke-width="1.0"/>
<line x1="718.00" y1="463.40" x2="718.00" y2="460.10" stroke="#222222" stroke-width="1.0"/>
<line x1="718.00" y1="4.50" x2="718.00" y2="8.00" stroke="#8a8a8a" stroke-width="1.0"/>
<line x1="757.60" y1="463.40" x2="757.60" y2="460.10" stroke="#222222" stroke-width="1.0"/>
<line x1="757.60" y1="4.50" x2="757.60" y2="8.00" stroke="#8a8a8a" stroke-width="1.0"/>
<line x1="797.20" y1="463.40" x2="797.20" y2="458.10" stroke="#222222" stroke-width="1.0"/>
<line x1="797.20" y1="4.50" x2="797.20" y2="11.90" stroke="#8a8a8a" stroke-width="1.0"/>
<line x1="69.50" y1="462.87" x2="72.90" y2="462.87" stroke="#222222" stroke-width="1.0"/>
<line x1="812.00" y1="462.87" x2="808.10" y2="462.87" stroke="#8a8a8a" stroke-width="1.0"/>
<line x1="69.50" y1="440.40" x2="74.80" y2="440.40" stroke="#222222" stroke-width="1.0"/>
<line x1="812.00" y1="440.40" x2="804.40" y2="440.40" stroke="#8a8a8a" stroke-width="1.0"/>
<line x1="69.50" y1="417.93" x2="72.90" y2="417.93" stroke="#222222" stroke-width="1.0"/>
<line x1="812.00" y1="417.93" x2="808.10" y2="417.93" stroke="#8a8a8a" stroke-width="1.0"/>
<line x1="69.50" y1="395.46" x2="72.90" y2="395.46" stroke="#222222" stroke-width="1.0"/>
<line x1="812.00" y1="395.46" x2="808.10" y2="395.46" stroke="#8a8a8a" stroke-width="1.0"/>
<line x1="69.50" y1="372.99" x2="72.90" y2="372.99" stroke="#222222" stroke-width="1.0"/>
<line x1="812.00" y1="372.99" x2="808.10" y2="372.99" stroke="#8a8a8a" stroke-width="1.0"/>
<line x1="69.50" y1="350.52" x2="72.90" y2="350.52" stroke="#222222" stroke-width="1.0"/>
<line x1="812.00" y1="350.52" x2="808.10" y2="350.52" stroke="#8a8a8a" stroke-width="1.0"/>
<line x1="69.50" y1="328.05" x2="74.80" y2="328.05" stroke="#222222" stroke-width="1.0"/>
<line x1="812.00" y1="328.05" x2="804.40" y2="328.05" stroke="#8a8a8a" stroke-width="1.0"/>
<line x1="69.50" y1="305.58" x2="72.90" y2="305.58" stroke="#222222" stroke-width="1.0"/>
<line x1="812.00" y1="305.58" x2="808.10" y2="305.58" stroke="#8a8a8a" stroke-width="1.0"/>
<line x1="69.50" y1="283.11" x2="72.90" y2="283.11" stroke="#222222" stroke-width="1.0"/>
<line x1="812.00" y1="283.11" x2="808.10" y2="283.11" stroke="#8a8a8a" stroke-width="1.0"/>
<line x1="69.50" y1="260.64" x2="72.90" y2="260.64" stroke="#222222" stroke-width="1.0"/>
<line x1="812.00" y1="260.64" x2="808.10" y2="260.64" stroke="#8a8a8a" stroke-width="1.0"/>
<line x1="69.50" y1="238.17" x2="72.90" y2="238.17" stroke="#222222" stroke-width="1.0"/>
<line x1="812.00" y1="238.17" x2="808.10" y2="238.17" stroke="#8a8a8a" stroke-width="1.0"/>
<line x1="69.50" y1="215.70" x2="74.80" y2="215.70" stroke="#222222" stroke-width="1.0"/>
<line x1="812.00" y1="215.70" x2="804.40" y2="215.70" stroke="#8a8a8a" stroke-width="1.0"/>
<line x1="69.50" y1="193.23" x2="72.90" y2="193.23" stroke="#222222" stroke-width="1.0"/>
<line x1="812.00" y1="193.23" x2="808.10" y2="193.23" stroke="#8a8a8a" stroke-width="1.0"/>
<line x1="69.50" y1="170.76" x2="72.90" y2="170.76" stroke="#222222" stroke-width="1.0"/>
<line x1="812.00" y1="170.76" x2="808.10" y2="170.76" stroke="#8a8a8a" stroke-width="1.0"/>
<line x1="69.50" y1="148.29" x2="72.90" y2="148.29" stroke="#222222" stroke-width="1.0"/>
<line x1="812.00" y1="148.29" x2="808.10" y2="148.29" stroke="#8a8a8a" stroke-width="1.0"/>
<line x1="69.50" y1="125.82" x2="72.90" y2="125.82" stroke="#222222" stroke-width="1.0"/>
<line x1="812.00" y1="125.82" x2="808.10" y2="125.82" stroke="#8a8a8a" stroke-width="1.0"/>
<line x1="69.50" y1="103.35" x2="74.80" y2="103.35" stroke="#222222" stroke-width="1.0"/>
<line x1="812.00" y1="103.35" x2="804.40" y2="103.35" stroke="#8a8a8a" stroke-width="1.0"/>
<line x1="69.50" y1="80.88" x2="72.90" y2="80.88" stroke="#222222" stroke-width="1.0"/>
<line x1="812.00" y1="80.88" x2="808.10" y2="80.88" stroke="#8a8a8a" stroke-width="1.0"/>
<line x1="69.50" y1="58.41" x2="72.90" y2="58.41" stroke="#222222" stroke-width="1.0"/>
<line x1="812.00" y1="58.41" x2="808.10" y2="58.41" stroke="#8a8a8a" stroke-width="1.0"/>
<line x1="69.50" y1="35.94" x2="72.90" y2="35.94" stroke="#222222" stroke-width="1.0"/>
<line x1="812.00" y1="35.94" x2="808.10" y2="35.94" stroke="#8a8a8a" stroke-width="1.0"/>
<line x1="69.50" y1="13.47" x2="72.90" y2="13.47" stroke="#222222" stroke-width="1.0"/>
<line x1="812.00" y1="13.47" x2="808.10" y2="13.47" stroke="#8a8a8a" stroke-width="1.0"/>
<g font-weight="bold">
<text x="129.95" y="485.60" font-size="17.7">2.</text>
<text x="153.15" y="485.82" font-size="14.16" text-anchor="middle" stroke="#000" stroke-width="0.5" stroke-linejoin="miter">×</text>
<text x="161.65" y="485.60" font-size="17.7">10</text>
<text x="181.25" y="477.99" font-size="12.74">−8</text>
</g>
<g font-weight="bold">
<text x="288.35" y="485.60" font-size="17.7">4.</text>
<text x="311.55" y="485.82" font-size="14.16" text-anchor="middle" stroke="#000" stroke-width="0.5" stroke-linejoin="miter">×</text>
<text x="320.05" y="485.60" font-size="17.7">10</text>
<text x="339.65" y="477.99" font-size="12.74">−8</text>
</g>
<g font-weight="bold">
<text x="446.75" y="485.60" font-size="17.7">6.</text>
<text x="469.95" y="485.82" font-size="14.16" text-anchor="middle" stroke="#000" stroke-width="0.5" stroke-linejoin="miter">×</text>
<text x="478.45" y="485.60" font-size="17.7">10</text>
<text x="498.05" y="477.99" font-size="12.74">−8</text>
</g>
<g font-weight="bold">
<text x="605.15" y="485.60" font-size="17.7">8.</text>
<text x="628.35" y="485.82" font-size="14.16" text-anchor="middle" stroke="#000" stroke-width="0.5" stroke-linejoin="miter">×</text>
<text x="636.85" y="485.60" font-size="17.7">10</text>
<text x="656.45" y="477.99" font-size="12.74">−8</text>
</g>
<g font-weight="bold">
<text x="763.55" y="485.60" font-size="17.7">1.</text>
<text x="786.75" y="485.82" font-size="14.16" text-anchor="middle" stroke="#000" stroke-width="0.5" stroke-linejoin="miter">×</text>
<text x="795.25" y="485.60" font-size="17.7">10</text>
<text x="814.85" y="477.99" font-size="12.74">−7</text>
</g>
<text x="65.0" y="446.94" font-size="17.7" text-anchor="end" font-weight="bold">0.00</text>
<text x="65.0" y="334.59" font-size="17.7" text-anchor="end" font-weight="bold">0.05</text>
<text x="65.0" y="222.24" font-size="17.7" text-anchor="end" font-weight="bold">0.10</text>
<text x="65.0" y="109.89" font-size="17.7" text-anchor="end" font-weight="bold">0.15</text>
<text x="440.8" y="515.5" font-size="17.7" text-anchor="middle" font-weight="bold"><tspan font-style="italic" font-weight="normal">δ</tspan>m(eV)</text>
<g transform="translate(17.90,271.00) rotate(-90)" font-weight="bold">
<text x="0.00" y="0" font-size="19.12">Δ</text>
<text x="13.90" y="0" font-size="17.7" font-style="italic">ϕ</text>
<text x="27.00" y="-7.08" font-size="12.21" font-style="italic">g</text>
<text x="34.30" y="0" font-size="17.7">(rad)</text>
</g>
<rect x="250.75" y="24.4" width="536.75" height="332.1" fill="#ffffff"/>
<path d="M260.10,337.47 L261.67,337.28 L262.04,337.25 L262.41,337.21 L262.78,337.17 L263.14,337.13 L263.51,337.09 L263.88,337.04 L264.25,337.00 L264.62,336.96 L264.99,336.92 L265.36,336.88 L265.73,336.84 L266.10,336.80 L266.46,336.75 L266.83,336.71 L267.20,336.67 L267.57,336.62 L267.94,336.58 L268.31,336.54 L268.68,336.49 L269.05,336.45 L269.41,336.41 L269.78,336.36 L270.15,336.32 L270.52,336.27 L270.89,336.23 L271.26,336.18 L271.63,336.13 L272.00,336.09 L272.37,336.04 L272.73,335.99 L273.10,335.95 L273.47,335.90 L273.84,335.85 L274.21,335.81 L274.58,335.76 L274.95,335.71 L275.32,335.66 L275.69,335.61 L276.05,335.56 L276.42,335.51 L276.79,335.47 L277.16,335.42 L277.53,335.37 L277.90,335.32 L278.27,335.27 L278.64,335.21 L279.01,335.16 L279.37,335.11 L279.74,335.06 L280.11,335.01 L280.48,334.96 L280.85,334.91 L281.22,334.85 L281.59,334.80 L281.96,334.75 L282.32,334.69 L282.69,334.64 L283.06,334.59 L283.43,334.53 L283.80,334.48 L284.17,334.42 L284.54,334.37 L284.91,334.31 L285.28,334.26 L285.64,334.20 L286.01,334.15 L286.38,334.09 L286.75,334.04 L287.12,333.98 L287.49,333.92 L287.86,333.87 L288.23,333.81 L288.60,333.75 L288.96,333.69 L289.33,333.64 L289.70,333.58 L290.07,333.52 L290.44,333.46 L290.81,333.40 L291.18,333.34 L291.55,333.28 L291.92,333.22 L292.28,333.16 L292.65,333.10 L293.02,333.04 L293.39,332.98 L293.76,332.92 L294.13,332.86 L294.50,332.80 L294.87,332.74 L295.23,332.67 L295.60,332.61 L295.97,332.55 L296.34,332.49 L296.71,332.42 L297.08,332.36 L297.45,332.30 L297.82,332.23 L298.19,332.17 L298.55,332.10 L298.92,332.04 L299.29,331.97 L299.66,331.91 L300.03,331.84 L300.40,331.78 L300.77,331.71 L301.14,331.65 L301.51,331.58 L301.87,331.51 L302.24,331.45 L302.61,331.38 L302.98,331.31 L303.35,331.24 L303.72,331.18 L304.09,331.11 L304.46,331.04 L304.82,330.97 L305.19,330.90 L305.56,330.83 L305.93,330.76 L306.30,330.69 L306.67,330.62 L307.04,330.55 L307.41,330.48 L307.78,330.41 L308.14,330.34 L308.51,330.27 L308.88,330.20 L309.25,330.13 L309.62,330.06 L309.99,329.98 L310.36,329.91 L310.73,329.84 L311.10,329.77 L311.46,329.69 L311.83,329.62 L312.20,329.55 L312.57,329.47 L312.94,329.40 L313.31,329.33 L313.68,329.25 L314.05,329.18 L314.42,329.10 L314.78,329.03 L315.15,328.95 L315.52,328.87 L315.89,328.80 L316.26,328.72 L316.63,328.65 L317.00,328.57 L317.37,328.49 L317.73,328.42 L318.10,328.34 L318.47,328.26 L318.84,328.18 L319.21,328.10 L319.58,328.03 L319.95,327.95 L320.32,327.87 L320.69,327.79 L321.05,327.71 L321.42,327.63 L321.79,327.55 L322.16,327.47 L322.53,327.39 L322.90,327.31 L323.27,327.23 L323.64,327.15 L324.01,327.07 L324.37,326.99 L324.74,326.91 L325.11,326.82 L325.48,326.74 L325.85,326.66 L326.22,326.58 L326.59,326.49 L326.96,326.41 L327.33,326.33 L327.69,326.24 L328.06,326.16 L328.43,326.08 L328.80,325.99 L329.17,325.91 L329.54,325.82 L329.91,325.74 L330.28,325.65 L330.64,325.57 L331.01,325.48 L331.38,325.40 L331.75,325.31 L332.12,325.22 L332.49,325.14 L332.86,325.05 L333.23,324.96 L333.60,324.88 L333.96,324.79 L334.33,324.70 L334.70,324.61 L335.07,324.52 L335.44,324.43 L335.81,324.34 L336.18,324.26 L336.55,324.17 L336.92,324.08 L337.28,323.99 L337.65,323.90 L338.02,323.80 L338.39,323.71 L338.76,323.62 L339.13,323.53 L339.50,323.44 L339.87,323.35 L340.24,323.26 L340.60,323.16 L340.97,323.07 L341.34,322.98 L341.71,322.88 L342.08,322.79 L342.45,322.70 L342.82,322.60 L343.19,322.51 L343.55,322.41 L343.92,322.32 L344.29,322.22 L344.66,322.12 L345.03,322.03 L345.40,321.93 L345.77,321.84 L346.14,321.74 L346.51,321.64 L346.87,321.54 L347.24,321.45 L347.61,321.35 L347.98,321.25 L348.35,321.15 L348.72,321.05 L349.09,320.95 L349.46,320.85 L349.83,320.75 L350.19,320.65 L350.56,320.55 L350.93,320.45 L351.30,320.35 L351.67,320.25 L352.04,320.15 L352.41,320.05 L352.78,319.94 L353.15,319.84 L353.51,319.74 L353.88,319.64 L354.25,319.53 L354.62,319.43 L354.99,319.33 L355.36,319.22 L355.73,319.12 L356.10,319.01 L356.46,318.91 L356.83,318.80 L357.20,318.70 L357.57,318.59 L357.94,318.49 L358.31,318.38 L358.68,318.28 L359.05,318.17 L359.42,318.06 L359.78,317.96 L360.15,317.85 L360.52,317.74 L360.89,317.64 L361.26,317.53 L361.63,317.42 L362.00,317.31 L362.37,317.21 L362.74,317.10 L363.10,316.99 L363.47,316.88 L363.84,316.77 L364.21,316.67 L364.58,316.56 L364.95,316.45 L365.32,316.34 L365.69,316.23 L366.06,316.12 L366.42,316.01 L366.79,315.90 L367.16,315.79 L367.53,315.68 L367.90,315.57 L368.27,315.46 L368.64,315.35 L369.01,315.24 L369.37,315.13 L369.74,315.02 L370.11,314.91 L370.48,314.80 L370.85,314.69 L371.22,314.58 L371.59,314.46 L371.96,314.35 L372.33,314.24 L372.69,314.13 L373.06,314.01 L373.43,313.90 L373.80,313.79 L374.17,313.68 L374.54,313.56 L374.91,313.45 L375.28,313.34 L375.65,313.22 L376.01,313.11 L376.38,312.99 L376.75,312.88 L377.12,312.76 L377.49,312.65 L377.86,312.53 L378.23,312.42 L378.60,312.30 L378.97,312.18 L379.33,312.07 L379.70,311.95 L380.07,311.83 L380.44,311.71 L380.81,311.59 L381.18,311.47 L381.55,311.36 L381.92,311.24 L382.28,311.12 L382.65,311.00 L383.02,310.87 L383.39,310.75 L383.76,310.63 L384.13,310.51 L384.50,310.39 L384.87,310.26 L385.24,310.14 L385.60,310.02 L385.97,309.89 L386.34,309.77 L386.71,309.64 L387.08,309.52 L387.45,309.39 L387.82,309.26 L388.19,309.14 L388.56,309.01 L388.92,308.88 L389.29,308.75 L389.66,308.62 L390.03,308.49 L390.40,308.36 L390.77,308.23 L391.14,308.10 L391.51,307.97 L391.87,307.84 L392.24,307.71 L392.61,307.58 L392.98,307.45 L393.35,307.32 L393.72,307.18 L394.09,307.05 L394.46,306.92 L394.83,306.79 L395.19,306.65 L395.56,306.52 L395.93,306.39 L396.30,306.25 L396.67,306.12 L397.04,305.98 L397.41,305.85 L397.78,305.72 L398.15,305.58 L398.51,305.45 L398.88,305.31 L399.25,305.18 L399.62,305.05 L399.99,304.91 L400.36,304.78 L400.73,304.64 L401.10,304.51 L401.47,304.38 L401.83,304.24 L402.20,304.11 L402.57,303.97 L402.94,303.84 L403.31,303.71 L403.68,303.57 L404.05,303.44 L404.42,303.31 L404.78,303.17 L405.15,303.04 L405.52,302.91 L405.89,302.78 L406.26,302.64 L406.63,302.51 L407.00,302.38 L407.37,302.24 L407.74,302.11 L408.10,301.98 L408.47,301.84 L408.84,301.71 L409.21,301.58 L409.58,301.45 L409.95,301.31 L410.32,301.18 L410.69,301.04 L411.06,300.91 L411.42,300.78 L411.79,300.64 L412.16,300.51 L412.53,300.37 L412.90,300.23 L413.27,300.10 L413.64,299.96 L414.01,299.82 L414.38,299.69 L414.74,299.55 L415.11,299.41 L415.48,299.27 L415.85,299.13 L416.22,298.99 L416.59,298.85 L416.96,298.70 L417.33,298.56 L417.69,298.42 L418.06,298.27 L418.43,298.13 L418.80,297.98 L419.17,297.83 L419.54,297.69 L419.91,297.54 L420.28,297.39 L420.65,297.24 L421.01,297.09 L421.38,296.94 L421.75,296.78 L422.12,296.63 L422.49,296.48 L422.86,296.32 L423.23,296.17 L423.60,296.01 L423.97,295.86 L424.33,295.70 L424.70,295.54 L425.07,295.38 L425.44,295.23 L425.81,295.07 L426.18,294.91 L426.55,294.75 L426.92,294.59 L427.29,294.43 L427.65,294.27 L428.02,294.11 L428.39,293.95 L428.76,293.79 L429.13,293.63 L429.50,293.47 L429.87,293.31 L430.24,293.16 L430.60,293.00 L430.97,292.84 L431.34,292.68 L431.71,292.52 L432.08,292.37 L432.45,292.21 L432.82,292.05 L433.19,291.90 L433.56,291.74 L433.92,291.59 L434.29,291.43 L434.66,291.28 L435.03,291.13 L435.40,290.98 L435.77,290.82 L436.14,290.67 L436.51,290.52 L436.88,290.37 L437.24,290.22 L437.61,290.07 L437.98,289.92 L438.35,289.78 L438.72,289.63 L439.09,289.48 L439.46,289.33 L439.83,289.18 L440.20,289.03 L440.56,288.89 L440.93,288.74 L441.30,288.59 L441.67,288.44 L442.04,288.29 L442.41,288.14 L442.78,287.99 L443.15,287.84 L443.51,287.69 L443.88,287.54 L444.25,287.39 L444.62,287.23 L444.99,287.08 L445.36,286.92 L445.73,286.76 L446.10,286.61 L446.47,286.45 L446.83,286.29 L447.20,286.12 L447.57,285.96 L447.94,285.79 L448.31,285.63 L448.68,285.46 L449.05,285.29 L449.42,285.12 L449.79,284.95 L450.15,284.78 L450.52,284.60 L450.89,284.43 L451.26,284.25 L451.63,284.07 L452.00,283.89 L452.37,283.71 L452.74,283.53 L453.11,283.35 L453.47,283.17 L453.84,282.98 L454.21,282.80 L454.58,282.61 L454.95,282.43 L455.32,282.24 L455.69,282.06 L456.06,281.87 L456.42,281.69 L456.79,281.50 L457.16,281.32 L457.53,281.13 L457.90,280.95 L458.27,280.77 L458.64,280.58 L459.01,280.40 L459.38,280.22 L459.74,280.04 L460.11,279.86 L460.48,279.69 L460.85,279.51 L461.22,279.33 L461.59,279.16 L461.96,278.99 L462.33,278.82 L462.70,278.65 L463.06,278.48 L463.43,278.31 L463.80,278.15 L464.17,277.99 L464.54,277.82 L464.91,277.66 L465.28,277.50 L465.65,277.34 L466.01,277.18 L466.38,277.02 L466.75,276.86 L467.12,276.70 L467.49,276.55 L467.86,276.39 L468.23,276.23 L468.60,276.07 L468.97,275.91 L469.33,275.76 L469.70,275.60 L470.07,275.44 L470.44,275.27 L470.81,275.11 L471.18,274.95 L471.55,274.78 L471.92,274.61 L472.29,274.44 L472.65,274.27 L473.02,274.10 L473.39,273.92 L473.76,273.74 L474.13,273.56 L474.50,273.38 L474.87,273.19 L475.24,273.01 L475.61,272.82 L475.97,272.62 L476.34,272.43 L476.71,272.23 L477.08,272.03 L477.45,271.83 L477.82,271.63 L478.19,271.43 L478.56,271.22 L478.92,271.01 L479.29,270.80 L479.66,270.59 L480.03,270.38 L480.40,270.17 L480.77,269.96 L481.14,269.75 L481.51,269.53 L481.88,269.32 L482.24,269.11 L482.61,268.90 L482.98,268.69 L483.35,268.48 L483.72,268.27 L484.09,268.07 L484.46,267.86 L484.83,267.66 L485.20,267.46 L485.56,267.26 L485.93,267.07 L486.30,266.87 L486.67,266.68 L487.04,266.49 L487.41,266.31 L487.78,266.13 L488.15,265.94 L488.52,265.77 L488.88,265.59 L489.25,265.42 L489.62,265.25 L489.99,265.08 L490.36,264.91 L490.73,264.74 L491.10,264.58 L491.47,264.41 L491.83,264.25 L492.20,264.09 L492.57,263.92 L492.94,263.76 L493.31,263.60 L493.68,263.43 L494.05,263.27 L494.42,263.10 L494.79,262.94 L495.15,262.77 L495.52,262.59 L495.89,262.42 L496.26,262.24 L496.63,262.06 L497.00,261.88 L497.37,261.69 L497.74,261.50 L498.11,261.31 L498.47,261.11 L498.84,260.91 L499.21,260.71 L499.58,260.50 L499.95,260.29 L500.32,260.07 L500.69,259.85 L501.06,259.63 L501.43,259.40 L501.79,259.17 L502.16,258.94 L502.53,258.71 L502.90,258.47 L503.27,258.23 L503.64,257.99 L504.01,257.75 L504.38,257.51 L504.74,257.27 L505.11,257.03 L505.48,256.79 L505.85,256.55 L506.22,256.32 L506.59,256.08 L506.96,255.85 L507.33,255.62 L507.70,255.39 L508.06,255.16 L508.43,254.94 L508.80,254.72 L509.17,254.51 L509.54,254.30 L509.91,254.10 L510.28,253.89 L510.65,253.70 L511.02,253.50 L511.38,253.32 L511.75,253.13 L512.12,252.95 L512.49,252.77 L512.86,252.60 L513.23,252.43 L513.60,252.26 L513.97,252.09 L514.34,251.92 L514.70,251.76 L515.07,251.60 L515.44,251.43 L515.81,251.27 L516.18,251.11 L516.55,250.94 L516.92,250.78 L517.29,250.61 L517.65,250.43 L518.02,250.26 L518.39,250.08 L518.76,249.90 L519.13,249.71 L519.50,249.52 L519.87,249.32 L520.24,249.12 L520.61,248.91 L520.97,248.69 L521.34,248.47 L521.71,248.25 L522.08,248.01 L522.45,247.78 L522.82,247.54 L523.19,247.29 L523.56,247.04 L523.93,246.78 L524.29,246.52 L524.66,246.26 L525.03,245.99 L525.40,245.72 L525.77,245.45 L526.14,245.18 L526.51,244.91 L526.88,244.64 L527.25,244.37 L527.61,244.10 L527.98,243.83 L528.35,243.57 L528.72,243.31 L529.09,243.06 L529.46,242.81 L529.83,242.56 L530.20,242.32 L530.56,242.08 L530.93,241.86 L531.30,241.63 L531.67,241.42 L532.04,241.21 L532.41,241.01 L532.78,240.81 L533.15,240.62 L533.52,240.43 L533.88,240.25 L534.25,240.08 L534.62,239.91 L534.99,239.74 L535.36,239.58 L535.73,239.42 L536.10,239.26 L536.47,239.10 L536.84,238.94 L537.20,238.78 L537.57,238.62 L537.94,238.46 L538.31,238.29 L538.68,238.12 L539.05,237.94 L539.42,237.76 L539.79,237.58 L540.15,237.38 L540.52,237.18 L540.89,236.97 L541.26,236.76 L541.63,236.53 L542.00,236.30 L542.37,236.06 L542.74,235.81 L543.11,235.55 L543.47,235.29 L543.84,235.01 L544.21,234.74 L544.58,234.45 L544.95,234.16 L545.32,233.87 L545.69,233.57 L546.06,233.27 L546.43,232.96 L546.79,232.66 L547.16,232.35 L547.53,232.05 L547.90,231.75 L548.27,231.45 L548.64,231.16 L549.01,230.87 L549.38,230.59 L549.75,230.31 L550.11,230.04 L550.48,229.78 L550.85,229.53 L551.22,229.28 L551.59,229.05 L551.96,228.82 L552.33,228.61 L552.70,228.40 L553.06,228.20 L553.43,228.01 L553.80,227.83 L554.17,227.66 L554.54,227.49 L554.91,227.33 L555.28,227.17 L555.65,227.02 L556.02,226.87 L556.38,226.72 L556.75,226.57 L557.12,226.42 L557.49,226.26 L557.86,226.11 L558.23,225.94 L558.60,225.78 L558.97,225.60 L559.34,225.42 L559.70,225.23 L560.07,225.02 L560.44,224.81 L560.81,224.59 L561.18,224.36 L561.55,224.11 L561.92,223.85 L562.29,223.59 L562.66,223.31 L563.02,223.02 L563.39,222.72 L563.76,222.41 L564.13,222.09 L564.50,221.77 L564.87,221.44 L565.24,221.10 L565.61,220.76 L565.97,220.42 L566.34,220.08 L566.71,219.74 L567.08,219.40 L567.45,219.07 L567.82,218.74 L568.19,218.42 L568.56,218.11 L568.93,217.81 L569.29,217.52 L569.66,217.23 L570.03,216.96 L570.40,216.71 L570.77,216.46 L571.14,216.23 L571.51,216.01 L571.88,215.81 L572.25,215.61 L572.61,215.43 L572.98,215.26 L573.35,215.09 L573.72,214.94 L574.09,214.79 L574.46,214.65 L574.83,214.51 L575.20,214.37 L575.57,214.24 L575.93,214.10 L576.30,213.96 L576.67,213.81 L577.04,213.66 L577.41,213.50 L577.78,213.33 L578.15,213.14 L578.52,212.95 L578.88,212.74 L579.25,212.52 L579.62,212.28 L579.99,212.03 L580.36,211.76 L580.73,211.48 L581.10,211.18 L581.47,210.87 L581.84,210.54 L582.20,210.20 L582.57,209.85 L582.94,209.49 L583.31,209.12 L583.68,208.75 L584.05,208.37 L584.42,207.99 L584.79,207.61 L585.16,207.24 L585.52,206.86 L585.89,206.50 L586.26,206.14 L586.63,205.79 L587.00,205.45 L587.37,205.13 L587.74,204.82 L588.11,204.52 L588.48,204.25 L588.84,203.99 L589.21,203.74 L589.58,203.52 L589.95,203.31 L590.32,203.12 L590.69,202.94 L591.06,202.78 L591.43,202.63 L591.79,202.49 L592.16,202.36 L592.53,202.23 L592.90,202.11 L593.27,201.99 L593.64,201.87 L594.01,201.75 L594.38,201.63 L594.75,201.49 L595.11,201.35 L595.48,201.19 L595.85,201.02 L596.22,200.83 L596.59,200.63 L596.96,200.40 L597.33,200.16 L597.70,199.90 L598.07,199.61 L598.43,199.31 L598.80,198.99 L599.17,198.65 L599.54,198.29 L599.91,197.91 L600.28,197.52 L600.65,197.12 L601.02,196.71 L601.39,196.29 L601.75,195.87 L602.12,195.45 L602.49,195.03 L602.86,194.61 L603.23,194.20 L603.60,193.80 L603.97,193.41 L604.34,193.04 L604.70,192.68 L605.07,192.35 L605.44,192.03 L605.81,191.74 L606.18,191.47 L606.55,191.22 L606.92,190.99 L607.29,190.78 L607.66,190.60 L608.02,190.44 L608.39,190.29 L608.76,190.16 L609.13,190.04 L609.50,189.93 L609.87,189.83 L610.24,189.74 L610.61,189.64 L610.98,189.54 L611.34,189.44 L611.71,189.33 L612.08,189.21 L612.45,189.07 L612.82,188.91 L613.19,188.73 L613.56,188.53 L613.93,188.31 L614.30,188.06 L614.66,187.79 L615.03,187.49 L615.40,187.16 L615.77,186.81 L616.14,186.44 L616.51,186.04 L616.88,185.62 L617.25,185.19 L617.61,184.74 L617.98,184.28 L618.35,183.82 L618.72,183.35 L619.09,182.88 L619.46,182.41 L619.83,181.96 L620.20,181.51 L620.57,181.08 L620.93,180.67 L621.30,180.28 L621.67,179.91 L622.04,179.57 L622.41,179.25 L622.78,178.97 L623.15,178.71 L623.52,178.48 L623.89,178.28 L624.25,178.11 L624.62,177.96 L624.99,177.83 L625.36,177.73 L625.73,177.63 L626.10,177.55 L626.47,177.48 L626.84,177.42 L627.20,177.35 L627.57,177.28 L627.94,177.20 L628.31,177.10 L628.68,176.99 L629.05,176.86 L629.42,176.70 L629.79,176.51 L630.16,176.30 L630.52,176.05 L630.89,175.77 L631.26,175.46 L631.63,175.12 L632.00,174.74 L632.37,174.33 L632.74,173.90 L633.11,173.44 L633.48,172.96 L633.84,172.47 L634.21,171.96 L634.58,171.44 L634.95,170.92 L635.32,170.40 L635.69,169.89 L636.06,169.39 L636.43,168.90 L636.80,168.44 L637.16,168.00 L637.53,167.59 L637.90,167.21 L638.27,166.87 L638.64,166.56 L639.01,166.28 L639.38,166.05 L639.75,165.84 L640.11,165.67 L640.48,165.54 L640.85,165.43 L641.22,165.34 L641.59,165.28 L641.96,165.23 L642.33,165.19 L642.70,165.16 L643.07,165.12 L643.43,165.08 L643.80,165.03 L644.17,164.96 L644.54,164.86 L644.91,164.74 L645.28,164.59 L645.65,164.40 L646.02,164.18 L646.39,163.91 L646.75,163.61 L647.12,163.26 L647.49,162.87 L647.86,162.45 L648.23,161.99 L648.60,161.50 L648.97,160.98 L649.34,160.44 L649.71,159.88 L650.07,159.31 L650.44,158.73 L650.81,158.16 L651.18,157.59 L651.55,157.04 L651.92,156.50 L652.29,156.00 L652.66,155.52 L653.02,155.08 L653.39,154.68 L653.76,154.32 L654.13,154.00 L654.50,153.73 L654.87,153.50 L655.24,153.32 L655.61,153.18 L655.98,153.07 L656.34,153.00 L656.71,152.95 L657.08,152.93 L657.45,152.92 L657.82,152.93 L658.19,152.93 L658.56,152.93 L658.93,152.92 L659.30,152.89 L659.66,152.83 L660.03,152.74 L660.40,152.61 L660.77,152.44 L661.14,152.23 L661.51,151.96 L661.88,151.65 L662.25,151.29 L662.62,150.87 L662.98,150.42 L663.35,149.92 L663.72,149.38 L664.09,148.80 L664.46,148.20 L664.83,147.58 L665.20,146.95 L665.57,146.32 L665.93,145.68 L666.30,145.06 L666.67,144.46 L667.04,143.89 L667.41,143.35 L667.78,142.85 L668.15,142.40 L668.52,141.99 L668.89,141.64 L669.25,141.34 L669.62,141.10 L669.99,140.91 L670.36,140.77 L670.73,140.68 L671.10,140.62 L671.47,140.61 L671.84,140.62 L672.21,140.65 L672.57,140.70 L672.94,140.75 L673.31,140.79 L673.68,140.82 L674.05,140.83 L674.42,140.80 L674.79,140.73 L675.16,140.62 L675.53,140.46 L675.89,140.24 L676.26,139.96 L676.63,139.62 L677.00,139.22 L677.37,138.77 L677.74,138.26 L678.11,137.70 L678.48,137.09 L678.84,136.45 L679.21,135.78 L679.58,135.09 L679.95,134.39 L680.32,133.69 L680.69,133.00 L681.06,132.33 L681.43,131.69 L681.80,131.09 L682.16,130.54 L682.53,130.04 L682.90,129.60 L683.27,129.22 L683.64,128.90 L684.01,128.65 L684.38,128.46 L684.75,128.34 L685.12,128.27 L685.48,128.25 L685.85,128.27 L686.22,128.33 L686.59,128.41 L686.96,128.51 L687.33,128.61 L687.70,128.70 L688.07,128.77 L688.44,128.81 L688.80,128.81 L689.17,128.76 L689.54,128.65 L689.91,128.48 L690.28,128.24 L690.65,127.93 L691.02,127.54 L691.39,127.09 L691.75,126.57 L692.12,125.99 L692.49,125.35 L692.86,124.66 L693.23,123.94 L693.60,123.19 L693.97,122.42 L694.34,121.65 L694.71,120.89 L695.07,120.15 L695.44,119.45 L695.81,118.78 L696.18,118.18 L696.55,117.63 L696.92,117.15 L697.29,116.75 L697.66,116.43 L698.03,116.18 L698.39,116.00 L698.76,115.90 L699.13,115.87 L699.50,115.90 L699.87,115.97 L700.24,116.08 L700.61,116.22 L700.98,116.38 L701.34,116.53 L701.71,116.67 L702.08,116.78 L702.45,116.85 L702.82,116.86 L703.19,116.82 L703.56,116.70 L703.93,116.51 L704.30,116.23 L704.66,115.87 L705.03,115.43 L705.40,114.90 L705.77,114.30 L706.14,113.63 L706.51,112.89 L706.88,112.11 L707.25,111.30 L707.62,110.46 L707.98,109.61 L708.35,108.78 L708.72,107.96 L709.09,107.19 L709.46,106.46 L709.83,105.80 L710.20,105.21 L710.57,104.70 L710.94,104.27 L711.30,103.94 L711.67,103.70 L712.04,103.55 L712.41,103.49 L712.78,103.50 L713.15,103.57 L713.52,103.71 L713.89,103.89 L714.25,104.09 L714.62,104.30 L714.99,104.51 L715.36,104.70 L715.73,104.85 L716.10,104.95 L716.47,104.98 L716.84,104.93 L717.21,104.79 L717.57,104.57 L717.94,104.24 L718.31,103.81 L718.68,103.29 L719.05,102.67 L719.42,101.97 L719.79,101.20 L720.16,100.36 L720.53,99.48 L720.89,98.57 L721.26,97.64 L721.63,96.72 L722.00,95.83 L722.37,94.97 L722.74,94.18 L723.11,93.45 L723.48,92.81 L723.85,92.26 L724.21,91.82 L724.58,91.48 L724.95,91.24 L725.32,91.12 L725.69,91.09 L726.06,91.14 L726.43,91.28 L726.80,91.48 L727.16,91.72 L727.53,92.00 L727.90,92.28 L728.27,92.55 L728.64,92.79 L729.01,92.98 L729.38,93.10 L729.75,93.14 L730.12,93.09 L730.48,92.93 L730.85,92.66 L731.22,92.27 L731.59,91.77 L731.96,91.16 L732.33,90.45 L732.70,89.64 L733.07,88.76 L733.44,87.82 L733.80,86.83 L734.17,85.82 L734.54,84.81 L734.91,83.83 L735.28,82.88 L735.65,82.00 L736.02,81.20 L736.39,80.49 L736.76,79.89 L737.12,79.41 L737.49,79.05 L737.86,78.81 L738.23,78.70 L738.60,78.70 L738.97,78.80 L739.34,78.99 L739.71,79.25 L740.07,79.57 L740.44,79.92 L740.81,80.27 L741.18,80.61 L741.55,80.91 L741.92,81.15 L742.29,81.30 L742.66,81.36 L743.03,81.31 L743.39,81.13 L743.76,80.82 L744.13,80.38 L744.50,79.81 L744.87,79.11 L745.24,78.30 L745.61,77.38 L745.98,76.39 L746.35,75.34 L746.71,74.25 L747.08,73.15 L747.45,72.06 L747.82,71.01 L748.19,70.02 L748.56,69.12 L748.93,68.32 L749.30,67.64 L749.67,67.09 L750.03,66.69 L750.40,66.42 L750.77,66.29 L751.14,66.30 L751.51,66.43 L751.88,66.67 L752.25,66.99 L752.62,67.37 L752.98,67.80 L753.35,68.23 L753.72,68.64 L754.09,69.02 L754.46,69.32 L754.83,69.53 L755.20,69.63 L755.57,69.59 L755.94,69.41 L756.30,69.09 L756.67,68.60 L757.04,67.97 L757.41,67.20 L757.78,66.30 L758.15,65.29 L758.52,64.20 L758.89,63.04 L759.26,61.85 L759.62,60.65 L759.99,59.48 L760.36,58.36 L760.73,57.33 L761.10,56.40 L761.47,55.59 L761.84,54.94 L762.21,54.43 L762.58,54.09 L762.94,53.91 L763.31,53.89 L763.68,54.01 L764.05,54.27 L764.42,54.63 L764.79,55.07 L765.16,55.56 L765.53,56.08 L765.89,56.59 L766.26,57.06 L766.63,57.45 L767.00,57.75 L767.37,57.91 L767.74,57.94 L768.11,57.80 L768.48,57.49 L768.85,57.01 L769.21,56.35 L769.58,55.54 L769.95,54.58 L770.32,53.49 L770.69,52.30 L771.06,51.05 L771.43,49.75 L771.80,48.45 L772.17,47.18 L772.53,45.98 L772.90,44.88 L773.27,43.89 L773.64,43.06 L774.01,42.39 L774.38,41.91 L774.75,41.60 L775.12,41.48 L775.48,41.54 L775.85,41.76 L776.22,42.11 L776.59,42.58 L776.96,43.13 L777.33,43.73 L777.70,44.34" fill="none" stroke="#008000" stroke-width="2.35" stroke-linejoin="round" stroke-linecap="butt" stroke-dasharray="3.699 3.000 7.999 3.000" stroke-dashoffset="0.0"/>
<path d="M260.00,340.23 L263.88,340.22 L266.45,340.21 L269.03,340.20 L271.60,340.19 L274.18,340.17 L276.76,340.16 L279.33,340.15 L281.91,340.13 L284.48,340.12 L287.06,340.10 L289.64,340.09 L292.21,340.07 L294.79,340.05 L297.36,340.04 L299.94,340.02 L302.52,340.00 L305.09,339.98 L307.67,339.96 L310.24,339.94 L312.82,339.92 L315.40,339.90 L317.97,339.88 L320.55,339.86 L323.12,339.84 L325.70,339.82 L328.28,339.79 L330.85,339.77 L333.43,339.75 L336.00,339.72 L338.58,339.70 L341.16,339.67 L343.73,339.65 L346.31,339.62 L348.88,339.59 L351.46,339.57 L354.04,339.54 L356.61,339.51 L359.19,339.48 L361.76,339.45 L364.34,339.42 L366.92,339.39 L369.49,339.36 L372.07,339.33 L374.64,339.30 L377.22,339.27 L379.80,339.24 L382.37,339.20 L384.95,339.17 L387.52,339.14 L390.10,339.10 L392.67,339.07 L395.25,339.03 L397.83,339.00 L400.40,338.96 L402.98,338.92 L405.55,338.89 L408.13,338.85 L410.71,338.81 L413.28,338.77 L415.86,338.73 L418.43,338.69 L421.01,338.65 L423.59,338.61 L426.16,338.57 L428.74,338.53 L431.31,338.49 L433.89,338.44 L436.47,338.40 L439.04,338.36 L441.62,338.31 L444.19,338.27 L446.77,338.23 L449.35,338.18 L451.92,338.13 L454.50,338.09 L457.07,338.04 L459.65,337.99 L462.23,337.95 L464.80,337.90 L467.38,337.85 L469.95,337.80 L472.53,337.75 L475.11,337.70 L477.68,337.65 L480.26,337.60 L482.83,337.55 L485.41,337.49 L487.99,337.44 L490.56,337.39 L493.14,337.34 L495.71,337.28 L498.29,337.23 L500.87,337.17 L503.44,337.12 L506.02,337.06 L508.59,337.01 L511.17,336.95 L513.75,336.89 L516.32,336.83 L518.90,336.77 L521.47,336.72 L524.05,336.66 L526.63,336.60 L529.20,336.54 L531.78,336.48 L534.35,336.42 L536.93,336.35 L539.51,336.29 L542.08,336.23 L544.66,336.17 L547.23,336.10 L549.81,336.04 L552.39,335.97 L554.96,335.91 L557.54,335.84 L560.11,335.78 L562.69,335.71 L565.27,335.64 L567.84,335.58 L570.42,335.51 L572.99,335.44 L575.57,335.37 L578.15,335.30 L580.72,335.23 L583.30,335.16 L585.87,335.09 L588.45,335.02 L591.03,334.95 L593.60,334.88 L596.18,334.80 L598.75,334.73 L601.33,334.66 L603.91,334.58 L606.48,334.51 L609.06,334.43 L611.63,334.36 L614.21,334.28 L616.79,334.21 L619.36,334.13 L621.94,334.05 L624.51,333.97 L627.09,333.90 L629.67,333.82 L632.24,333.74 L634.82,333.66 L637.39,333.58 L639.97,333.50 L642.55,333.42 L645.12,333.33 L647.70,333.25 L650.27,333.17 L652.85,333.09 L655.42,333.00 L658.00,332.92 L660.58,332.83 L663.15,332.75 L665.73,332.66 L668.30,332.58 L670.88,332.49 L673.46,332.40 L676.03,332.32 L678.61,332.23 L681.18,332.14 L683.76,332.05 L686.34,331.96 L688.91,331.87 L691.49,331.78 L694.06,331.69 L696.64,331.60 L699.22,331.51 L701.79,331.41 L704.37,331.32 L706.94,331.23 L709.52,331.14 L712.10,331.04 L714.67,330.95 L717.25,330.85 L719.82,330.76 L722.40,330.66 L724.98,330.56 L727.55,330.47 L730.13,330.37 L732.70,330.27 L735.28,330.17 L737.86,330.07 L740.43,329.97 L743.01,329.87 L745.58,329.77 L748.16,329.67 L750.74,329.57 L753.31,329.47 L755.89,329.37 L758.46,329.26 L761.04,329.16 L763.62,329.06 L766.19,328.95 L768.77,328.85 L771.34,328.74 L773.92,328.64 L777.60,328.53" fill="none" stroke="#3d0746" stroke-width="2.45" stroke-linejoin="round" stroke-linecap="butt"/>
<path d="M260.10,340.32 L263.88,340.32 L266.45,340.32 L269.03,340.31 L271.60,340.31 L274.18,340.31 L276.76,340.30 L279.33,340.30 L281.91,340.30 L284.48,340.29 L287.06,340.29 L289.64,340.28 L292.21,340.28 L294.79,340.28 L297.36,340.27 L299.94,340.27 L302.52,340.26 L305.09,340.26 L307.67,340.25 L310.24,340.25 L312.82,340.24 L315.40,340.24 L317.97,340.23 L320.55,340.23 L323.12,340.22 L325.70,340.22 L328.28,340.21 L330.85,340.21 L333.43,340.20 L336.00,340.20 L338.58,340.19 L341.16,340.18 L343.73,340.18 L346.31,340.17 L348.88,340.16 L351.46,340.16 L354.04,340.15 L356.61,340.14 L359.19,340.14 L361.76,340.13 L364.34,340.12 L366.92,340.11 L369.49,340.11 L372.07,340.10 L374.64,340.09 L377.22,340.08 L379.80,340.08 L382.37,340.07 L384.95,340.06 L387.52,340.05 L390.10,340.04 L392.67,340.03 L395.25,340.02 L397.83,340.02 L400.40,340.01 L402.98,340.00 L405.55,339.99 L408.13,339.98 L410.71,339.97 L413.28,339.96 L415.86,339.95 L418.43,339.94 L421.01,339.93 L423.59,339.92 L426.16,339.91 L428.74,339.90 L431.31,339.89 L433.89,339.88 L436.47,339.87 L439.04,339.86 L441.62,339.85 L444.19,339.84 L446.77,339.83 L449.35,339.81 L451.92,339.80 L454.50,339.79 L457.07,339.78 L459.65,339.77 L462.23,339.76 L464.80,339.75 L467.38,339.73 L469.95,339.72 L472.53,339.71 L475.11,339.70 L477.68,339.68 L480.26,339.67 L482.83,339.66 L485.41,339.65 L487.99,339.63 L490.56,339.62 L493.14,339.61 L495.71,339.59 L498.29,339.58 L500.87,339.57 L503.44,339.55 L506.02,339.54 L508.59,339.53 L511.17,339.51 L513.75,339.50 L516.32,339.48 L518.90,339.47 L521.47,339.45 L524.05,339.44 L526.63,339.42 L529.20,339.41 L531.78,339.39 L534.35,339.38 L536.93,339.36 L539.51,339.35 L542.08,339.33 L544.66,339.32 L547.23,339.30 L549.81,339.29 L552.39,339.27 L554.96,339.25 L557.54,339.24 L560.11,339.22 L562.69,339.21 L565.27,339.19 L567.84,339.17 L570.42,339.16 L572.99,339.14 L575.57,339.12 L578.15,339.11 L580.72,339.09 L583.30,339.07 L585.87,339.05 L588.45,339.04 L591.03,339.02 L593.60,339.00 L596.18,338.98 L598.75,338.96 L601.33,338.95 L603.91,338.93 L606.48,338.91 L609.06,338.89 L611.63,338.87 L614.21,338.85 L616.79,338.84 L619.36,338.82 L621.94,338.80 L624.51,338.78 L627.09,338.76 L629.67,338.74 L632.24,338.72 L634.82,338.70 L637.39,338.68 L639.97,338.66 L642.55,338.64 L645.12,338.62 L647.70,338.60 L650.27,338.58 L652.85,338.56 L655.42,338.54 L658.00,338.52 L660.58,338.50 L663.15,338.48 L665.73,338.45 L668.30,338.43 L670.88,338.41 L673.46,338.39 L676.03,338.37 L678.61,338.35 L681.18,338.33 L683.76,338.30 L686.34,338.28 L688.91,338.26 L691.49,338.24 L694.06,338.21 L696.64,338.19 L699.22,338.17 L701.79,338.15 L704.37,338.12 L706.94,338.10 L709.52,338.08 L712.10,338.05 L714.67,338.03 L717.25,338.01 L719.82,337.98 L722.40,337.96 L724.98,337.94 L727.55,337.91 L730.13,337.89 L732.70,337.86 L735.28,337.84 L737.86,337.82 L740.43,337.79 L743.01,337.77 L745.58,337.74 L748.16,337.72 L750.74,337.69 L753.31,337.67 L755.89,337.64 L758.46,337.62 L761.04,337.59 L763.62,337.57 L766.19,337.54 L768.77,337.51 L771.34,337.49 L773.92,337.46 L777.00,337.44" fill="none" stroke="#ff8000" stroke-width="2.6" stroke-linejoin="round" stroke-linecap="butt" stroke-dasharray="8.0 3.063" stroke-dashoffset="0"/>
<line x1="250.75" y1="24.40" x2="250.75" y2="356.50" stroke="#1c1c1c" stroke-width="1.1"/>
<line x1="250.25" y1="356.50" x2="788.00" y2="356.50" stroke="#1c1c1c" stroke-width="1.1"/>
<line x1="250.25" y1="24.40" x2="788.00" y2="24.40" stroke="#1c1c1c" stroke-width="1.1"/>
<line x1="787.50" y1="24.40" x2="787.50" y2="356.50" stroke="#1c1c1c" stroke-width="1.1"/>
<line x1="261.30" y1="356.50" x2="261.30" y2="353.20" stroke="#222222" stroke-width="1.0"/>
<line x1="261.30" y1="24.40" x2="261.30" y2="27.80" stroke="#8a8a8a" stroke-width="1.0"/>
<line x1="289.92" y1="356.50" x2="289.92" y2="353.20" stroke="#222222" stroke-width="1.0"/>
<line x1="289.92" y1="24.40" x2="289.92" y2="27.80" stroke="#8a8a8a" stroke-width="1.0"/>
<line x1="318.54" y1="356.50" x2="318.54" y2="351.20" stroke="#222222" stroke-width="1.0"/>
<line x1="318.54" y1="24.40" x2="318.54" y2="29.70" stroke="#8a8a8a" stroke-width="1.0"/>
<line x1="347.17" y1="356.50" x2="347.17" y2="353.20" stroke="#222222" stroke-width="1.0"/>
<line x1="347.17" y1="24.40" x2="347.17" y2="27.80" stroke="#8a8a8a" stroke-width="1.0"/>
<line x1="375.79" y1="356.50" x2="375.79" y2="353.20" stroke="#222222" stroke-width="1.0"/>
<line x1="375.79" y1="24.40" x2="375.79" y2="27.80" stroke="#8a8a8a" stroke-width="1.0"/>
<line x1="404.41" y1="356.50" x2="404.41" y2="353.20" stroke="#222222" stroke-width="1.0"/>
<line x1="404.41" y1="24.40" x2="404.41" y2="27.80" stroke="#8a8a8a" stroke-width="1.0"/>
<line x1="433.03" y1="356.50" x2="433.03" y2="351.20" stroke="#222222" stroke-width="1.0"/>
<line x1="433.03" y1="24.40" x2="433.03" y2="29.70" stroke="#8a8a8a" stroke-width="1.0"/>
<line x1="461.65" y1="356.50" x2="461.65" y2="353.20" stroke="#222222" stroke-width="1.0"/>
<line x1="461.65" y1="24.40" x2="461.65" y2="27.80" stroke="#8a8a8a" stroke-width="1.0"/>
<line x1="490.28" y1="356.50" x2="490.28" y2="353.20" stroke="#222222" stroke-width="1.0"/>
<line x1="490.28" y1="24.40" x2="490.28" y2="27.80" stroke="#8a8a8a" stroke-width="1.0"/>
<line x1="518.90" y1="356.50" x2="518.90" y2="353.20" stroke="#222222" stroke-width="1.0"/>
<line x1="518.90" y1="24.40" x2="518.90" y2="27.80" stroke="#8a8a8a" stroke-width="1.0"/>
<line x1="547.52" y1="356.50" x2="547.52" y2="351.20" stroke="#222222" stroke-width="1.0"/>
<line x1="547.52" y1="24.40" x2="547.52" y2="29.70" stroke="#8a8a8a" stroke-width="1.0"/>
<line x1="576.14" y1="356.50" x2="576.14" y2="353.20" stroke="#222222" stroke-width="1.0"/>
<line x1="576.14" y1="24.40" x2="576.14" y2="27.80" stroke="#8a8a8a" stroke-width="1.0"/>
<line x1="604.76" y1="356.50" x2="604.76" y2="353.20" stroke="#222222" stroke-width="1.0"/>
<line x1="604.76" y1="24.40" x2="604.76" y2="27.80" stroke="#8a8a8a" stroke-width="1.0"/>
<line x1="633.39" y1="356.50" x2="633.39" y2="353.20" stroke="#222222" stroke-width="1.0"/>
<line x1="633.39" y1="24.40" x2="633.39" y2="27.80" stroke="#8a8a8a" stroke-width="1.0"/>
<line x1="662.01" y1="356.50" x2="662.01" y2="351.20" stroke="#222222" stroke-width="1.0"/>
<line x1="662.01" y1="24.40" x2="662.01" y2="29.70" stroke="#8a8a8a" stroke-width="1.0"/>
<line x1="690.63" y1="356.50" x2="690.63" y2="353.20" stroke="#222222" stroke-width="1.0"/>
<line x1="690.63" y1="24.40" x2="690.63" y2="27.80" stroke="#8a8a8a" stroke-width="1.0"/>
<line x1="719.25" y1="356.50" x2="719.25" y2="353.20" stroke="#222222" stroke-width="1.0"/>
<line x1="719.25" y1="24.40" x2="719.25" y2="27.80" stroke="#8a8a8a" stroke-width="1.0"/>
<line x1="747.87" y1="356.50" x2="747.87" y2="353.20" stroke="#222222" stroke-width="1.0"/>
<line x1="747.87" y1="24.40" x2="747.87" y2="27.80" stroke="#8a8a8a" stroke-width="1.0"/>
<line x1="776.50" y1="356.50" x2="776.50" y2="351.20" stroke="#222222" stroke-width="1.0"/>
<line x1="776.50" y1="24.40" x2="776.50" y2="29.70" stroke="#8a8a8a" stroke-width="1.0"/>
<line x1="250.75" y1="356.54" x2="253.95" y2="356.54" stroke="#222222" stroke-width="1.0"/>
<line x1="787.50" y1="356.54" x2="784.10" y2="356.54" stroke="#8a8a8a" stroke-width="1.0"/>
<line x1="250.75" y1="340.35" x2="256.05" y2="340.35" stroke="#222222" stroke-width="1.0"/>
<line x1="787.50" y1="340.35" x2="782.20" y2="340.35" stroke="#8a8a8a" stroke-width="1.0"/>
<line x1="250.75" y1="324.16" x2="253.95" y2="324.16" stroke="#222222" stroke-width="1.0"/>
<line x1="787.50" y1="324.16" x2="784.10" y2="324.16" stroke="#8a8a8a" stroke-width="1.0"/>
<line x1="250.75" y1="307.97" x2="253.95" y2="307.97" stroke="#222222" stroke-width="1.0"/>
<line x1="787.50" y1="307.97" x2="784.10" y2="307.97" stroke="#8a8a8a" stroke-width="1.0"/>
<line x1="250.75" y1="291.78" x2="253.95" y2="291.78" stroke="#222222" stroke-width="1.0"/>
<line x1="787.50" y1="291.78" x2="784.10" y2="291.78" stroke="#8a8a8a" stroke-width="1.0"/>
<line x1="250.75" y1="275.59" x2="253.95" y2="275.59" stroke="#222222" stroke-width="1.0"/>
<line x1="787.50" y1="275.59" x2="784.10" y2="275.59" stroke="#8a8a8a" stroke-width="1.0"/>
<line x1="250.75" y1="259.40" x2="256.05" y2="259.40" stroke="#222222" stroke-width="1.0"/>
<line x1="787.50" y1="259.40" x2="782.20" y2="259.40" stroke="#8a8a8a" stroke-width="1.0"/>
<line x1="250.75" y1="243.21" x2="253.95" y2="243.21" stroke="#222222" stroke-width="1.0"/>
<line x1="787.50" y1="243.21" x2="784.10" y2="243.21" stroke="#8a8a8a" stroke-width="1.0"/>
<line x1="250.75" y1="227.02" x2="253.95" y2="227.02" stroke="#222222" stroke-width="1.0"/>
<line x1="787.50" y1="227.02" x2="784.10" y2="227.02" stroke="#8a8a8a" stroke-width="1.0"/>
<line x1="250.75" y1="210.83" x2="253.95" y2="210.83" stroke="#222222" stroke-width="1.0"/>
<line x1="787.50" y1="210.83" x2="784.10" y2="210.83" stroke="#8a8a8a" stroke-width="1.0"/>
<line x1="250.75" y1="194.64" x2="253.95" y2="194.64" stroke="#222222" stroke-width="1.0"/>
<line x1="787.50" y1="194.64" x2="784.10" y2="194.64" stroke="#8a8a8a" stroke-width="1.0"/>
<line x1="250.75" y1="178.45" x2="256.05" y2="178.45" stroke="#222222" stroke-width="1.0"/>
<line x1="787.50" y1="178.45" x2="782.20" y2="178.45" stroke="#8a8a8a" stroke-width="1.0"/>
<line x1="250.75" y1="162.26" x2="253.95" y2="162.26" stroke="#222222" stroke-width="1.0"/>
<line x1="787.50" y1="162.26" x2="784.10" y2="162.26" stroke="#8a8a8a" stroke-width="1.0"/>
<line x1="250.75" y1="146.07" x2="253.95" y2="146.07" stroke="#222222" stroke-width="1.0"/>
<line x1="787.50" y1="146.07" x2="784.10" y2="146.07" stroke="#8a8a8a" stroke-width="1.0"/>
<line x1="250.75" y1="129.88" x2="253.95" y2="129.88" stroke="#222222" stroke-width="1.0"/>
<line x1="787.50" y1="129.88" x2="784.10" y2="129.88" stroke="#8a8a8a" stroke-width="1.0"/>
<line x1="250.75" y1="113.69" x2="253.95" y2="113.69" stroke="#222222" stroke-width="1.0"/>
<line x1="787.50" y1="113.69" x2="784.10" y2="113.69" stroke="#8a8a8a" stroke-width="1.0"/>
<line x1="250.75" y1="97.50" x2="256.05" y2="97.50" stroke="#222222" stroke-width="1.0"/>
<line x1="787.50" y1="97.50" x2="782.20" y2="97.50" stroke="#8a8a8a" stroke-width="1.0"/>
<line x1="250.75" y1="81.31" x2="253.95" y2="81.31" stroke="#222222" stroke-width="1.0"/>
<line x1="787.50" y1="81.31" x2="784.10" y2="81.31" stroke="#8a8a8a" stroke-width="1.0"/>
<line x1="250.75" y1="65.12" x2="253.95" y2="65.12" stroke="#222222" stroke-width="1.0"/>
<line x1="787.50" y1="65.12" x2="784.10" y2="65.12" stroke="#8a8a8a" stroke-width="1.0"/>
<line x1="250.75" y1="48.93" x2="253.95" y2="48.93" stroke="#222222" stroke-width="1.0"/>
<line x1="787.50" y1="48.93" x2="784.10" y2="48.93" stroke="#8a8a8a" stroke-width="1.0"/>
<line x1="250.75" y1="32.74" x2="253.95" y2="32.74" stroke="#222222" stroke-width="1.0"/>
<line x1="787.50" y1="32.74" x2="784.10" y2="32.74" stroke="#8a8a8a" stroke-width="1.0"/>
<g font-weight="bold">
<text x="283.84" y="377.70" font-size="16.5">2.</text>
<text x="305.68" y="377.70" font-size="14.16" text-anchor="middle" stroke="#000" stroke-width="0.5" stroke-linejoin="miter">×</text>
<text x="313.39" y="377.70" font-size="16.5">10</text>
<text x="331.66" y="370.60" font-size="11.88">−10</text>
</g>
<g font-weight="bold">
<text x="398.32" y="377.70" font-size="16.5">4.</text>
<text x="420.16" y="377.70" font-size="14.16" text-anchor="middle" stroke="#000" stroke-width="0.5" stroke-linejoin="miter">×</text>
<text x="427.87" y="377.70" font-size="16.5">10</text>
<text x="446.15" y="370.60" font-size="11.88">−10</text>
</g>
<g font-weight="bold">
<text x="512.81" y="377.70" font-size="16.5">6.</text>
<text x="534.65" y="377.70" font-size="14.16" text-anchor="middle" stroke="#000" stroke-width="0.5" stroke-linejoin="miter">×</text>
<text x="542.36" y="377.70" font-size="16.5">10</text>
<text x="560.63" y="370.60" font-size="11.88">−10</text>
</g>
<g font-weight="bold">
<text x="627.30" y="377.70" font-size="16.5">8.</text>
<text x="649.14" y="377.70" font-size="14.16" text-anchor="middle" stroke="#000" stroke-width="0.5" stroke-linejoin="miter">×</text>
<text x="656.85" y="377.70" font-size="16.5">10</text>
<text x="675.12" y="370.60" font-size="11.88">−10</text>
</g>
<g font-weight="bold">
<text x="745.10" y="377.70" font-size="16.5">1.</text>
<text x="766.94" y="377.70" font-size="14.16" text-anchor="middle" stroke="#000" stroke-width="0.5" stroke-linejoin="miter">×</text>
<text x="774.65" y="377.70" font-size="16.5">10</text>
<text x="792.92" y="370.60" font-size="11.88">−9</text>
</g>
<text x="246.3" y="346.46" font-size="16.5" text-anchor="end" font-weight="bold">0.00</text>
<text x="246.3" y="265.51" font-size="16.5" text-anchor="end" font-weight="bold">0.05</text>
<text x="246.3" y="184.56" font-size="16.5" text-anchor="end" font-weight="bold">0.10</text>
<text x="246.3" y="103.61" font-size="16.5" text-anchor="end" font-weight="bold">0.15</text>
<text x="519.2" y="406.8" font-size="16.5" text-anchor="middle" font-weight="bold"><tspan font-style="italic">ϵ</tspan><tspan font-style="italic" font-size="11.55" dy="3.30" dx="-0.6">n n'</tspan><tspan dy="-3.30">(eV)</tspan></text>
<g transform="translate(202.40,225.10) rotate(-90)" font-weight="bold">
<text x="0.00" y="0" font-size="17.82">Δ</text>
<text x="12.96" y="0" font-size="16.5" font-style="italic">ϕ</text>
<text x="25.17" y="-6.60" font-size="11.38" font-style="italic">g</text>
<text x="31.97" y="0" font-size="16.5">(rad)</text>
</g>
</svg>
</body>
</html>
